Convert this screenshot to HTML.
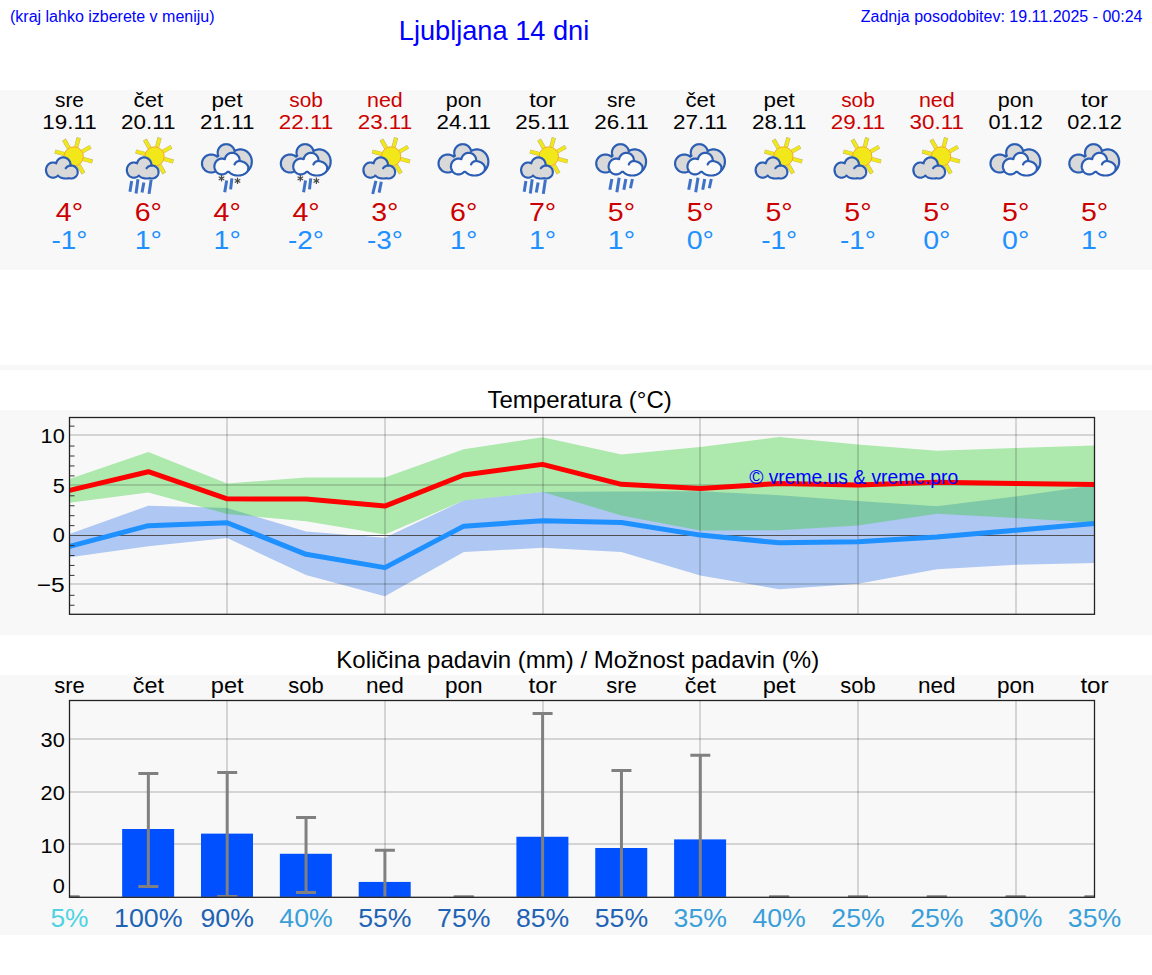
<!DOCTYPE html>
<html><head><meta charset="utf-8"><title>Ljubljana 14 dni</title><style>html,body{margin:0;padding:0;background:#fff;width:1152px;height:975px;overflow:hidden}svg{font-family:"Liberation Sans",sans-serif}</style></head><body>
<svg width="1152" height="975" viewBox="0 0 1152 975" style="display:block">
<rect width="1152" height="975" fill="#ffffff"/>
<rect x="0" y="90" width="1152" height="180" fill="#f8f8f8"/>
<rect x="0" y="365" width="1152" height="5" fill="#f8f8f8"/>
<rect x="0" y="410" width="1152" height="225" fill="#f8f8f8"/>
<rect x="0" y="675" width="1152" height="260" fill="#f8f8f8"/>
<text x="10.00" y="22.00" font-size="16" fill="#0000ff" text-anchor="start">(kraj lahko izberete v meniju)</text>
<text x="398.80" y="39.60" font-size="28" fill="#0000ff" text-anchor="start" textLength="190.40" lengthAdjust="spacingAndGlyphs">Ljubljana 14 dni</text>
<text x="1142.50" y="22.00" font-size="16" fill="#0000ff" text-anchor="end">Zadnja posodobitev: 19.11.2025 - 00:24</text>
<text x="69.50" y="106.75" font-size="20.14" fill="#000000" text-anchor="middle" textLength="28.98" lengthAdjust="spacingAndGlyphs">sre</text>
<text x="69.50" y="128.90" font-size="20.14" fill="#000000" text-anchor="middle" textLength="54.42" lengthAdjust="spacingAndGlyphs">19.11</text>
<text x="69.50" y="220.80" font-size="25.44" fill="#cc0000" text-anchor="middle" textLength="27.27" lengthAdjust="spacingAndGlyphs">4°</text>
<text x="69.50" y="249.00" font-size="25.44" fill="#1e90ff" text-anchor="middle" textLength="35.92" lengthAdjust="spacingAndGlyphs">-1°</text>
<text x="148.35" y="106.75" font-size="20.14" fill="#000000" text-anchor="middle" textLength="29.59" lengthAdjust="spacingAndGlyphs">čet</text>
<text x="148.35" y="128.90" font-size="20.14" fill="#000000" text-anchor="middle" textLength="54.42" lengthAdjust="spacingAndGlyphs">20.11</text>
<text x="148.35" y="220.80" font-size="25.44" fill="#cc0000" text-anchor="middle" textLength="27.27" lengthAdjust="spacingAndGlyphs">6°</text>
<text x="148.35" y="249.00" font-size="25.44" fill="#1e90ff" text-anchor="middle" textLength="27.27" lengthAdjust="spacingAndGlyphs">1°</text>
<text x="227.20" y="106.75" font-size="20.14" fill="#000000" text-anchor="middle" textLength="31.20" lengthAdjust="spacingAndGlyphs">pet</text>
<text x="227.20" y="128.90" font-size="20.14" fill="#000000" text-anchor="middle" textLength="54.42" lengthAdjust="spacingAndGlyphs">21.11</text>
<text x="227.20" y="220.80" font-size="25.44" fill="#cc0000" text-anchor="middle" textLength="27.27" lengthAdjust="spacingAndGlyphs">4°</text>
<text x="227.20" y="249.00" font-size="25.44" fill="#1e90ff" text-anchor="middle" textLength="27.27" lengthAdjust="spacingAndGlyphs">1°</text>
<text x="306.05" y="106.75" font-size="20.14" fill="#cc0000" text-anchor="middle" textLength="33.59" lengthAdjust="spacingAndGlyphs">sob</text>
<text x="306.05" y="128.90" font-size="20.14" fill="#cc0000" text-anchor="middle" textLength="54.42" lengthAdjust="spacingAndGlyphs">22.11</text>
<text x="306.05" y="220.80" font-size="25.44" fill="#cc0000" text-anchor="middle" textLength="27.27" lengthAdjust="spacingAndGlyphs">4°</text>
<text x="306.05" y="249.00" font-size="25.44" fill="#1e90ff" text-anchor="middle" textLength="35.92" lengthAdjust="spacingAndGlyphs">-2°</text>
<text x="384.90" y="106.75" font-size="20.14" fill="#cc0000" text-anchor="middle" textLength="35.80" lengthAdjust="spacingAndGlyphs">ned</text>
<text x="384.90" y="128.90" font-size="20.14" fill="#cc0000" text-anchor="middle" textLength="54.42" lengthAdjust="spacingAndGlyphs">23.11</text>
<text x="384.90" y="220.80" font-size="25.44" fill="#cc0000" text-anchor="middle" textLength="27.27" lengthAdjust="spacingAndGlyphs">3°</text>
<text x="384.90" y="249.00" font-size="25.44" fill="#1e90ff" text-anchor="middle" textLength="35.92" lengthAdjust="spacingAndGlyphs">-3°</text>
<text x="463.75" y="106.75" font-size="20.14" fill="#000000" text-anchor="middle" textLength="35.73" lengthAdjust="spacingAndGlyphs">pon</text>
<text x="463.75" y="128.90" font-size="20.14" fill="#000000" text-anchor="middle" textLength="54.42" lengthAdjust="spacingAndGlyphs">24.11</text>
<text x="463.75" y="220.80" font-size="25.44" fill="#cc0000" text-anchor="middle" textLength="27.27" lengthAdjust="spacingAndGlyphs">6°</text>
<text x="463.75" y="249.00" font-size="25.44" fill="#1e90ff" text-anchor="middle" textLength="27.27" lengthAdjust="spacingAndGlyphs">1°</text>
<text x="542.60" y="106.75" font-size="20.14" fill="#000000" text-anchor="middle" textLength="26.89" lengthAdjust="spacingAndGlyphs">tor</text>
<text x="542.60" y="128.90" font-size="20.14" fill="#000000" text-anchor="middle" textLength="54.42" lengthAdjust="spacingAndGlyphs">25.11</text>
<text x="542.60" y="220.80" font-size="25.44" fill="#cc0000" text-anchor="middle" textLength="27.27" lengthAdjust="spacingAndGlyphs">7°</text>
<text x="542.60" y="249.00" font-size="25.44" fill="#1e90ff" text-anchor="middle" textLength="27.27" lengthAdjust="spacingAndGlyphs">1°</text>
<text x="621.45" y="106.75" font-size="20.14" fill="#000000" text-anchor="middle" textLength="28.98" lengthAdjust="spacingAndGlyphs">sre</text>
<text x="621.45" y="128.90" font-size="20.14" fill="#000000" text-anchor="middle" textLength="54.42" lengthAdjust="spacingAndGlyphs">26.11</text>
<text x="621.45" y="220.80" font-size="25.44" fill="#cc0000" text-anchor="middle" textLength="27.27" lengthAdjust="spacingAndGlyphs">5°</text>
<text x="621.45" y="249.00" font-size="25.44" fill="#1e90ff" text-anchor="middle" textLength="27.27" lengthAdjust="spacingAndGlyphs">1°</text>
<text x="700.30" y="106.75" font-size="20.14" fill="#000000" text-anchor="middle" textLength="29.59" lengthAdjust="spacingAndGlyphs">čet</text>
<text x="700.30" y="128.90" font-size="20.14" fill="#000000" text-anchor="middle" textLength="54.42" lengthAdjust="spacingAndGlyphs">27.11</text>
<text x="700.30" y="220.80" font-size="25.44" fill="#cc0000" text-anchor="middle" textLength="27.27" lengthAdjust="spacingAndGlyphs">5°</text>
<text x="700.30" y="249.00" font-size="25.44" fill="#1e90ff" text-anchor="middle" textLength="27.27" lengthAdjust="spacingAndGlyphs">0°</text>
<text x="779.15" y="106.75" font-size="20.14" fill="#000000" text-anchor="middle" textLength="31.20" lengthAdjust="spacingAndGlyphs">pet</text>
<text x="779.15" y="128.90" font-size="20.14" fill="#000000" text-anchor="middle" textLength="54.42" lengthAdjust="spacingAndGlyphs">28.11</text>
<text x="779.15" y="220.80" font-size="25.44" fill="#cc0000" text-anchor="middle" textLength="27.27" lengthAdjust="spacingAndGlyphs">5°</text>
<text x="779.15" y="249.00" font-size="25.44" fill="#1e90ff" text-anchor="middle" textLength="35.92" lengthAdjust="spacingAndGlyphs">-1°</text>
<text x="858.00" y="106.75" font-size="20.14" fill="#cc0000" text-anchor="middle" textLength="33.59" lengthAdjust="spacingAndGlyphs">sob</text>
<text x="858.00" y="128.90" font-size="20.14" fill="#cc0000" text-anchor="middle" textLength="54.42" lengthAdjust="spacingAndGlyphs">29.11</text>
<text x="858.00" y="220.80" font-size="25.44" fill="#cc0000" text-anchor="middle" textLength="27.27" lengthAdjust="spacingAndGlyphs">5°</text>
<text x="858.00" y="249.00" font-size="25.44" fill="#1e90ff" text-anchor="middle" textLength="35.92" lengthAdjust="spacingAndGlyphs">-1°</text>
<text x="936.85" y="106.75" font-size="20.14" fill="#cc0000" text-anchor="middle" textLength="35.80" lengthAdjust="spacingAndGlyphs">ned</text>
<text x="936.85" y="128.90" font-size="20.14" fill="#cc0000" text-anchor="middle" textLength="54.42" lengthAdjust="spacingAndGlyphs">30.11</text>
<text x="936.85" y="220.80" font-size="25.44" fill="#cc0000" text-anchor="middle" textLength="27.27" lengthAdjust="spacingAndGlyphs">5°</text>
<text x="936.85" y="249.00" font-size="25.44" fill="#1e90ff" text-anchor="middle" textLength="27.27" lengthAdjust="spacingAndGlyphs">0°</text>
<text x="1015.70" y="106.75" font-size="20.14" fill="#000000" text-anchor="middle" textLength="35.73" lengthAdjust="spacingAndGlyphs">pon</text>
<text x="1015.70" y="128.90" font-size="20.14" fill="#000000" text-anchor="middle" textLength="54.42" lengthAdjust="spacingAndGlyphs">01.12</text>
<text x="1015.70" y="220.80" font-size="25.44" fill="#cc0000" text-anchor="middle" textLength="27.27" lengthAdjust="spacingAndGlyphs">5°</text>
<text x="1015.70" y="249.00" font-size="25.44" fill="#1e90ff" text-anchor="middle" textLength="27.27" lengthAdjust="spacingAndGlyphs">0°</text>
<text x="1094.55" y="106.75" font-size="20.14" fill="#000000" text-anchor="middle" textLength="26.89" lengthAdjust="spacingAndGlyphs">tor</text>
<text x="1094.55" y="128.90" font-size="20.14" fill="#000000" text-anchor="middle" textLength="54.42" lengthAdjust="spacingAndGlyphs">02.12</text>
<text x="1094.55" y="220.80" font-size="25.44" fill="#cc0000" text-anchor="middle" textLength="27.27" lengthAdjust="spacingAndGlyphs">5°</text>
<text x="1094.55" y="249.00" font-size="25.44" fill="#1e90ff" text-anchor="middle" textLength="27.27" lengthAdjust="spacingAndGlyphs">1°</text>
<line x1="83.36" y1="159.09" x2="92.54" y2="161.55" stroke="#bdb56e" stroke-width="4.2"/><line x1="83.36" y1="159.09" x2="92.15" y2="161.44" stroke="#f2e819" stroke-width="3.2"/><line x1="78.70" y1="165.16" x2="83.45" y2="173.39" stroke="#bdb56e" stroke-width="4.2"/><line x1="78.70" y1="165.16" x2="83.25" y2="173.04" stroke="#f2e819" stroke-width="3.2"/><line x1="71.11" y1="166.16" x2="68.65" y2="175.34" stroke="#bdb56e" stroke-width="4.2"/><line x1="71.11" y1="166.16" x2="68.76" y2="174.95" stroke="#f2e819" stroke-width="3.2"/><line x1="65.04" y1="161.50" x2="56.81" y2="166.25" stroke="#bdb56e" stroke-width="4.2"/><line x1="65.04" y1="161.50" x2="57.16" y2="166.05" stroke="#f2e819" stroke-width="3.2"/><line x1="64.04" y1="153.91" x2="54.86" y2="151.45" stroke="#bdb56e" stroke-width="4.2"/><line x1="64.04" y1="153.91" x2="55.25" y2="151.56" stroke="#f2e819" stroke-width="3.2"/><line x1="68.70" y1="147.84" x2="63.95" y2="139.61" stroke="#bdb56e" stroke-width="4.2"/><line x1="68.70" y1="147.84" x2="64.15" y2="139.96" stroke="#f2e819" stroke-width="3.2"/><line x1="76.29" y1="146.84" x2="78.75" y2="137.66" stroke="#bdb56e" stroke-width="4.2"/><line x1="76.29" y1="146.84" x2="78.64" y2="138.05" stroke="#f2e819" stroke-width="3.2"/><line x1="82.36" y1="151.50" x2="90.59" y2="146.75" stroke="#bdb56e" stroke-width="4.2"/><line x1="82.36" y1="151.50" x2="90.24" y2="146.95" stroke="#f2e819" stroke-width="3.2"/><circle cx="73.7" cy="156.5" r="9.7" fill="#f2e819" stroke="#f6a821" stroke-width="1"/><path d="M70.41,163.64 L70.30,163.07 L70.15,162.51 L69.95,161.97 L69.72,161.44 L69.44,160.93 L69.12,160.45 L68.77,159.99 L68.39,159.57 L67.98,159.17 L67.53,158.81 L67.06,158.49 L66.57,158.21 L66.06,157.96 L65.52,157.76 L64.98,157.60 L64.43,157.49 L63.86,157.42 L63.30,157.40 L62.74,157.42 L62.17,157.49 L61.62,157.60 L61.08,157.76 L60.54,157.96 L60.03,158.21 L59.54,158.49 L59.07,158.81 L58.62,159.17 L58.21,159.57 L57.83,159.99 L57.48,160.45 L57.16,160.93 L56.88,161.44 L56.65,161.97 L56.45,162.51 L56.30,163.07 L56.24,163.37 L56.18,163.33 L55.68,163.08 L55.16,162.87 L54.63,162.71 L54.10,162.59 L53.55,162.52 L53.00,162.50 L52.45,162.52 L51.90,162.59 L51.37,162.71 L50.84,162.87 L50.32,163.08 L49.82,163.33 L49.34,163.62 L48.89,163.95 L48.45,164.32 L48.05,164.73 L47.68,165.16 L47.34,165.63 L47.03,166.13 L46.76,166.65 L46.53,167.19 L46.34,167.75 L46.19,168.33 L46.09,168.91 L46.02,169.50 L46.00,170.10 L46.02,170.70 L46.09,171.29 L46.19,171.87 L46.34,172.45 L46.53,173.01 L46.76,173.55 L47.03,174.07 L47.34,174.57 L47.68,175.04 L48.05,175.47 L48.45,175.88 L48.89,176.25 L49.34,176.58 L49.82,176.87 L50.32,177.12 L50.84,177.33 L51.37,177.49 L51.90,177.61 L52.45,177.68 L53.00,177.70 L53.55,177.68 L54.10,177.61 L54.63,177.49 L55.16,177.33 L55.68,177.12 L56.18,176.87 L56.66,176.58 L57.11,176.25 L57.55,175.88 L57.95,175.47 L57.96,175.47 L57.98,175.50 L58.33,175.87 L58.72,176.23 L59.16,176.57 L59.64,176.89 L60.15,177.18 L60.71,177.45 L61.30,177.69 L61.91,177.90 L62.56,178.08 L63.22,178.23 L63.90,178.35 L64.59,178.43 L65.29,178.48 L66.00,178.50 L66.71,178.48 L67.41,178.43 L68.10,178.35 L68.78,178.23 L69.04,178.17 L69.06,178.18 L69.56,178.32 L70.07,178.42 L70.58,178.48 L71.10,178.50 L71.62,178.48 L72.13,178.42 L72.64,178.32 L73.14,178.18 L73.63,178.01 L74.10,177.79 L74.55,177.54 L74.98,177.26 L75.39,176.94 L75.77,176.60 L76.12,176.22 L76.44,175.82 L76.73,175.40 L76.98,174.95 L77.20,174.49 L77.38,174.01 L77.52,173.52 L77.62,173.02 L77.68,172.51 L77.70,172.00 L77.68,171.49 L77.62,170.98 L77.52,170.48 L77.38,169.99 L77.20,169.51 L76.98,169.05 L76.73,168.60 L76.44,168.18 L76.12,167.78 L75.77,167.40 L75.39,167.06 L74.98,166.74 L74.55,166.46 L74.10,166.21 L73.63,165.99 L73.14,165.82 L72.64,165.68 L72.13,165.58 L71.62,165.52 L71.10,165.50 L70.58,165.52 L70.46,165.53 L70.48,165.38 L70.50,164.80 L70.48,164.22 L70.41,163.64Z" fill="#d9d9d9" stroke="#2a5db3" stroke-width="2.15" stroke-linejoin="round"/><path d="M65.69,168.27 L66.03,167.84 L66.39,167.44 L66.79,167.08 L67.22,166.74 L67.68,166.44 L68.16,166.18 L68.65,165.96 L69.17,165.78 L69.70,165.65 L70.24,165.56 L70.78,165.51 L71.33,165.50" fill="none" stroke="#2a5db3" stroke-width="2.15" stroke-linecap="round"/>
<line x1="164.21" y1="159.09" x2="173.39" y2="161.55" stroke="#bdb56e" stroke-width="4.2"/><line x1="164.21" y1="159.09" x2="173.00" y2="161.44" stroke="#f2e819" stroke-width="3.2"/><line x1="159.55" y1="165.16" x2="164.30" y2="173.39" stroke="#bdb56e" stroke-width="4.2"/><line x1="159.55" y1="165.16" x2="164.10" y2="173.04" stroke="#f2e819" stroke-width="3.2"/><line x1="151.96" y1="166.16" x2="149.50" y2="175.34" stroke="#bdb56e" stroke-width="4.2"/><line x1="151.96" y1="166.16" x2="149.61" y2="174.95" stroke="#f2e819" stroke-width="3.2"/><line x1="145.89" y1="161.50" x2="137.66" y2="166.25" stroke="#bdb56e" stroke-width="4.2"/><line x1="145.89" y1="161.50" x2="138.01" y2="166.05" stroke="#f2e819" stroke-width="3.2"/><line x1="144.89" y1="153.91" x2="135.71" y2="151.45" stroke="#bdb56e" stroke-width="4.2"/><line x1="144.89" y1="153.91" x2="136.10" y2="151.56" stroke="#f2e819" stroke-width="3.2"/><line x1="149.55" y1="147.84" x2="144.80" y2="139.61" stroke="#bdb56e" stroke-width="4.2"/><line x1="149.55" y1="147.84" x2="145.00" y2="139.96" stroke="#f2e819" stroke-width="3.2"/><line x1="157.14" y1="146.84" x2="159.60" y2="137.66" stroke="#bdb56e" stroke-width="4.2"/><line x1="157.14" y1="146.84" x2="159.49" y2="138.05" stroke="#f2e819" stroke-width="3.2"/><line x1="163.21" y1="151.50" x2="171.44" y2="146.75" stroke="#bdb56e" stroke-width="4.2"/><line x1="163.21" y1="151.50" x2="171.09" y2="146.95" stroke="#f2e819" stroke-width="3.2"/><circle cx="154.54999999999998" cy="156.5" r="9.7" fill="#f2e819" stroke="#f6a821" stroke-width="1"/><path d="M151.26,163.64 L151.15,163.07 L151.00,162.51 L150.80,161.97 L150.57,161.44 L150.29,160.93 L149.97,160.45 L149.62,159.99 L149.24,159.57 L148.83,159.17 L148.38,158.81 L147.91,158.49 L147.42,158.21 L146.91,157.96 L146.37,157.76 L145.83,157.60 L145.28,157.49 L144.71,157.42 L144.15,157.40 L143.59,157.42 L143.02,157.49 L142.47,157.60 L141.93,157.76 L141.39,157.96 L140.88,158.21 L140.39,158.49 L139.92,158.81 L139.47,159.17 L139.06,159.57 L138.68,159.99 L138.33,160.45 L138.01,160.93 L137.73,161.44 L137.50,161.97 L137.30,162.51 L137.15,163.07 L137.09,163.37 L137.03,163.33 L136.53,163.08 L136.01,162.87 L135.48,162.71 L134.95,162.59 L134.40,162.52 L133.85,162.50 L133.30,162.52 L132.75,162.59 L132.22,162.71 L131.69,162.87 L131.17,163.08 L130.67,163.33 L130.19,163.62 L129.74,163.95 L129.30,164.32 L128.90,164.73 L128.53,165.16 L128.19,165.63 L127.88,166.13 L127.61,166.65 L127.38,167.19 L127.19,167.75 L127.04,168.33 L126.94,168.91 L126.87,169.50 L126.85,170.10 L126.87,170.70 L126.94,171.29 L127.04,171.87 L127.19,172.45 L127.38,173.01 L127.61,173.55 L127.88,174.07 L128.19,174.57 L128.53,175.04 L128.90,175.47 L129.30,175.88 L129.74,176.25 L130.19,176.58 L130.67,176.87 L131.17,177.12 L131.69,177.33 L132.22,177.49 L132.75,177.61 L133.30,177.68 L133.85,177.70 L134.40,177.68 L134.95,177.61 L135.48,177.49 L136.01,177.33 L136.53,177.12 L137.03,176.87 L137.51,176.58 L137.96,176.25 L138.40,175.88 L138.80,175.47 L138.81,175.47 L138.83,175.50 L139.18,175.87 L139.57,176.23 L140.01,176.57 L140.49,176.89 L141.00,177.18 L141.56,177.45 L142.15,177.69 L142.76,177.90 L143.41,178.08 L144.07,178.23 L144.75,178.35 L145.44,178.43 L146.14,178.48 L146.85,178.50 L147.56,178.48 L148.26,178.43 L148.95,178.35 L149.63,178.23 L149.89,178.17 L149.91,178.18 L150.41,178.32 L150.92,178.42 L151.43,178.48 L151.95,178.50 L152.47,178.48 L152.98,178.42 L153.49,178.32 L153.99,178.18 L154.48,178.01 L154.95,177.79 L155.40,177.54 L155.83,177.26 L156.24,176.94 L156.62,176.60 L156.97,176.22 L157.29,175.82 L157.58,175.40 L157.83,174.95 L158.05,174.49 L158.23,174.01 L158.37,173.52 L158.47,173.02 L158.53,172.51 L158.55,172.00 L158.53,171.49 L158.47,170.98 L158.37,170.48 L158.23,169.99 L158.05,169.51 L157.83,169.05 L157.58,168.60 L157.29,168.18 L156.97,167.78 L156.62,167.40 L156.24,167.06 L155.83,166.74 L155.40,166.46 L154.95,166.21 L154.48,165.99 L153.99,165.82 L153.49,165.68 L152.98,165.58 L152.47,165.52 L151.95,165.50 L151.43,165.52 L151.31,165.53 L151.33,165.38 L151.35,164.80 L151.33,164.22 L151.26,163.64Z" fill="#d9d9d9" stroke="#2a5db3" stroke-width="2.15" stroke-linejoin="round"/><path d="M146.54,168.27 L146.88,167.84 L147.24,167.44 L147.64,167.08 L148.07,166.74 L148.53,166.44 L149.01,166.18 L149.50,165.96 L150.02,165.78 L150.55,165.65 L151.09,165.56 L151.63,165.51 L152.18,165.50" fill="none" stroke="#2a5db3" stroke-width="2.15" stroke-linecap="round"/><line x1="131.65" y1="181" x2="129.95" y2="191.8" stroke="#3f72c6" stroke-width="3"/><line x1="137.95" y1="179.3" x2="136.05" y2="193.5" stroke="#3f72c6" stroke-width="3"/><line x1="143.85" y1="182.4" x2="142.05" y2="192.5" stroke="#3f72c6" stroke-width="3"/><line x1="151.15" y1="179.6" x2="149.05" y2="193.9" stroke="#3f72c6" stroke-width="3"/>
<path d="M234.47,150.64 L234.28,150.00 L234.05,149.39 L233.77,148.79 L233.45,148.21 L233.08,147.66 L232.66,147.14 L232.21,146.66 L231.72,146.21 L231.20,145.80 L230.64,145.44 L230.06,145.12 L229.45,144.84 L228.83,144.61 L228.18,144.43 L227.53,144.30 L226.87,144.23 L226.20,144.20 L225.53,144.23 L224.87,144.30 L224.22,144.43 L223.57,144.61 L222.95,144.84 L222.34,145.12 L221.76,145.44 L221.20,145.80 L220.68,146.21 L220.19,146.66 L219.74,147.14 L219.32,147.66 L218.95,148.21 L218.63,148.79 L218.35,149.39 L218.12,150.00 L217.93,150.64 L217.80,151.29 L217.73,151.94 L217.70,152.60 L217.73,153.26 L217.80,153.91 L217.93,154.56 L218.12,155.20 L218.35,155.81 L218.35,155.83 L217.19,156.67 L217.17,156.66 L216.61,156.22 L216.01,155.83 L215.38,155.48 L214.72,155.19 L214.04,154.94 L213.35,154.75 L212.64,154.61 L211.92,154.53 L211.20,154.50 L210.48,154.53 L209.76,154.61 L209.05,154.75 L208.36,154.94 L207.68,155.19 L207.02,155.48 L206.39,155.83 L205.79,156.22 L205.23,156.66 L204.69,157.14 L204.20,157.65 L203.76,158.21 L203.36,158.80 L203.00,159.41 L202.70,160.06 L202.45,160.72 L202.25,161.40 L202.11,162.09 L202.03,162.79 L202.00,163.50 L202.03,164.21 L202.11,164.91 L202.25,165.60 L202.45,166.28 L202.70,166.94 L203.00,167.59 L203.36,168.20 L203.76,168.79 L204.20,169.35 L204.69,169.86 L205.23,170.34 L205.79,170.78 L206.39,171.17 L207.02,171.52 L207.68,171.81 L208.36,172.06 L209.05,172.25 L209.76,172.39 L210.48,172.47 L211.20,172.50 L211.92,172.47 L212.64,172.39 L213.35,172.25 L214.04,172.06 L214.72,171.81 L215.38,171.52 L216.01,171.17 L216.61,170.78 L217.17,170.34 L217.71,169.86 L218.20,169.35 L218.64,168.79 L219.04,168.20 L219.40,167.59 L219.70,166.94 L219.95,166.28 L220.15,165.60 L220.29,164.91 L229.29,164.33 L229.31,164.45 L229.56,165.37 L229.87,166.27 L230.24,167.14 L230.68,167.97 L231.18,168.77 L231.73,169.52 L232.34,170.23 L233.00,170.88 L233.70,171.47 L234.44,172.00 L235.22,172.47 L236.04,172.87 L236.88,173.20 L237.74,173.46 L238.62,173.65 L239.51,173.76 L240.40,173.80 L241.29,173.76 L242.18,173.65 L243.06,173.46 L243.92,173.20 L244.76,172.87 L245.58,172.47 L246.36,172.00 L247.10,171.47 L247.80,170.88 L248.46,170.23 L249.07,169.52 L249.62,168.77 L250.12,167.97 L250.56,167.14 L250.93,166.27 L251.24,165.37 L251.49,164.45 L251.66,163.51 L251.76,162.56 L251.80,161.60 L251.76,160.64 L251.66,159.69 L251.49,158.75 L251.24,157.83 L250.93,156.93 L250.56,156.06 L250.12,155.23 L249.62,154.43 L249.07,153.68 L248.46,152.97 L247.80,152.32 L247.10,151.73 L246.36,151.20 L245.58,150.73 L244.76,150.33 L243.92,150.00 L243.06,149.74 L242.18,149.55 L241.29,149.44 L240.40,149.40 L239.51,149.44 L238.62,149.55 L237.74,149.74 L236.88,150.00 L236.04,150.33 L235.22,150.73 L234.56,151.13 L234.47,150.64Z" fill="#d9d9d9" stroke="#2a5db3" stroke-width="2.2" stroke-linejoin="round"/><path d="M239.51,159.04 L239.40,158.47 L239.24,157.91 L239.04,157.37 L238.79,156.84 L238.51,156.33 L238.19,155.85 L237.83,155.39 L237.43,154.97 L237.01,154.57 L236.55,154.21 L236.07,153.89 L235.56,153.61 L235.03,153.36 L234.49,153.16 L233.93,153.00 L233.36,152.89 L232.78,152.82 L232.20,152.80 L231.62,152.82 L231.04,152.89 L230.47,153.00 L229.91,153.16 L229.37,153.36 L228.84,153.61 L228.33,153.89 L227.85,154.21 L227.39,154.57 L226.97,154.97 L226.57,155.39 L226.21,155.85 L225.89,156.33 L225.61,156.84 L225.36,157.37 L225.16,157.91 L225.00,158.47 L224.89,159.04 L224.87,159.25 L224.77,159.20 L224.22,158.99 L223.65,158.82 L223.07,158.70 L222.49,158.62 L221.90,158.60 L221.31,158.62 L220.73,158.70 L220.15,158.82 L219.58,158.99 L219.03,159.20 L218.50,159.46 L217.98,159.76 L217.49,160.11 L217.03,160.49 L216.60,160.91 L216.20,161.37 L215.83,161.86 L215.51,162.37 L215.22,162.91 L214.97,163.48 L214.77,164.06 L214.61,164.66 L214.49,165.26 L214.42,165.88 L214.40,166.50 L214.42,167.12 L214.49,167.74 L214.61,168.34 L214.77,168.94 L214.97,169.52 L215.22,170.09 L215.51,170.63 L215.83,171.14 L216.20,171.63 L216.60,172.09 L217.03,172.51 L217.49,172.89 L217.98,173.24 L218.50,173.54 L219.03,173.80 L219.58,174.01 L220.15,174.18 L220.73,174.30 L221.31,174.38 L221.90,174.40 L222.49,174.38 L223.07,174.30 L223.65,174.18 L224.22,174.01 L224.77,173.80 L225.30,173.54 L225.82,173.24 L226.31,172.89 L226.77,172.51 L227.20,172.09 L227.37,171.90 L227.40,171.90 L227.75,171.89 L228.10,171.87 L228.45,171.83 L228.79,171.77 L228.92,171.75 L229.13,172.01 L229.59,172.49 L230.09,172.94 L230.65,173.36 L231.25,173.75 L231.89,174.11 L232.57,174.42 L233.28,174.70 L234.02,174.94 L234.79,175.14 L235.57,175.30 L236.37,175.41 L237.18,175.48 L238.00,175.50 L238.82,175.48 L239.63,175.41 L240.43,175.30 L241.21,175.14 L241.98,174.94 L242.72,174.70 L243.43,174.42 L244.11,174.11 L244.75,173.75 L245.35,173.36 L245.91,172.94 L246.41,172.49 L246.87,172.01 L247.27,171.51 L247.61,170.99 L247.89,170.46 L248.11,169.90 L248.27,169.34 L248.37,168.77 L248.40,168.20 L248.37,167.63 L248.27,167.06 L248.11,166.50 L247.89,165.94 L247.61,165.41 L247.27,164.89 L246.87,164.39 L246.41,163.91 L245.91,163.46 L245.35,163.04 L244.75,162.65 L244.11,162.29 L243.43,161.98 L242.72,161.70 L241.98,161.46 L241.21,161.26 L240.43,161.10 L239.63,160.99 L239.55,160.98 L239.58,160.78 L239.60,160.20 L239.58,159.62 L239.51,159.04Z" fill="#fafafa" stroke="#2a5db3" stroke-width="2.2" stroke-linejoin="round"/><path d="M234.55,164.41 L234.79,163.91 L235.08,163.43 L235.43,162.98 L235.81,162.57 L236.23,162.20 L236.69,161.88 L237.18,161.60 L237.69,161.37 L238.23,161.20 L238.78,161.08 L239.33,161.01 L239.90,161.00" fill="none" stroke="#2a5db3" stroke-width="2.2" stroke-linecap="round"/><line x1="226.70" y1="180.4" x2="224.70" y2="192.2" stroke="#3f72c6" stroke-width="3"/><line x1="231.90" y1="178.3" x2="230.60" y2="189.4" stroke="#3f72c6" stroke-width="3"/><line x1="221.50" y1="175.10" x2="221.50" y2="181.50" stroke="#484848" stroke-width="1.2"/><line x1="224.27" y1="176.70" x2="218.73" y2="179.90" stroke="#484848" stroke-width="1.2"/><line x1="224.27" y1="179.90" x2="218.73" y2="176.70" stroke="#484848" stroke-width="1.2"/><line x1="237.50" y1="177.60" x2="237.50" y2="184.00" stroke="#484848" stroke-width="1.2"/><line x1="240.27" y1="179.20" x2="234.73" y2="182.40" stroke="#484848" stroke-width="1.2"/><line x1="240.27" y1="182.40" x2="234.73" y2="179.20" stroke="#484848" stroke-width="1.2"/>
<path d="M313.32,150.64 L313.13,150.00 L312.90,149.39 L312.62,148.79 L312.30,148.21 L311.93,147.66 L311.51,147.14 L311.06,146.66 L310.57,146.21 L310.05,145.80 L309.49,145.44 L308.91,145.12 L308.30,144.84 L307.68,144.61 L307.03,144.43 L306.38,144.30 L305.72,144.23 L305.05,144.20 L304.38,144.23 L303.72,144.30 L303.07,144.43 L302.42,144.61 L301.80,144.84 L301.19,145.12 L300.61,145.44 L300.05,145.80 L299.53,146.21 L299.04,146.66 L298.59,147.14 L298.17,147.66 L297.80,148.21 L297.48,148.79 L297.20,149.39 L296.97,150.00 L296.78,150.64 L296.65,151.29 L296.58,151.94 L296.55,152.60 L296.58,153.26 L296.65,153.91 L296.78,154.56 L296.97,155.20 L297.20,155.81 L297.20,155.83 L296.04,156.67 L296.02,156.66 L295.46,156.22 L294.86,155.83 L294.23,155.48 L293.57,155.19 L292.89,154.94 L292.20,154.75 L291.49,154.61 L290.77,154.53 L290.05,154.50 L289.33,154.53 L288.61,154.61 L287.90,154.75 L287.21,154.94 L286.53,155.19 L285.87,155.48 L285.24,155.83 L284.64,156.22 L284.08,156.66 L283.54,157.14 L283.05,157.65 L282.61,158.21 L282.21,158.80 L281.85,159.41 L281.55,160.06 L281.30,160.72 L281.10,161.40 L280.96,162.09 L280.88,162.79 L280.85,163.50 L280.88,164.21 L280.96,164.91 L281.10,165.60 L281.30,166.28 L281.55,166.94 L281.85,167.59 L282.21,168.20 L282.61,168.79 L283.05,169.35 L283.54,169.86 L284.08,170.34 L284.64,170.78 L285.24,171.17 L285.87,171.52 L286.53,171.81 L287.21,172.06 L287.90,172.25 L288.61,172.39 L289.33,172.47 L290.05,172.50 L290.77,172.47 L291.49,172.39 L292.20,172.25 L292.89,172.06 L293.57,171.81 L294.23,171.52 L294.86,171.17 L295.46,170.78 L296.02,170.34 L296.56,169.86 L297.05,169.35 L297.49,168.79 L297.89,168.20 L298.25,167.59 L298.55,166.94 L298.80,166.28 L299.00,165.60 L299.14,164.91 L308.14,164.33 L308.16,164.45 L308.41,165.37 L308.72,166.27 L309.09,167.14 L309.53,167.97 L310.03,168.77 L310.58,169.52 L311.19,170.23 L311.85,170.88 L312.55,171.47 L313.29,172.00 L314.07,172.47 L314.89,172.87 L315.73,173.20 L316.59,173.46 L317.47,173.65 L318.36,173.76 L319.25,173.80 L320.14,173.76 L321.03,173.65 L321.91,173.46 L322.77,173.20 L323.61,172.87 L324.43,172.47 L325.21,172.00 L325.95,171.47 L326.65,170.88 L327.31,170.23 L327.92,169.52 L328.47,168.77 L328.97,167.97 L329.41,167.14 L329.78,166.27 L330.09,165.37 L330.34,164.45 L330.51,163.51 L330.61,162.56 L330.65,161.60 L330.61,160.64 L330.51,159.69 L330.34,158.75 L330.09,157.83 L329.78,156.93 L329.41,156.06 L328.97,155.23 L328.47,154.43 L327.92,153.68 L327.31,152.97 L326.65,152.32 L325.95,151.73 L325.21,151.20 L324.43,150.73 L323.61,150.33 L322.77,150.00 L321.91,149.74 L321.03,149.55 L320.14,149.44 L319.25,149.40 L318.36,149.44 L317.47,149.55 L316.59,149.74 L315.73,150.00 L314.89,150.33 L314.07,150.73 L313.41,151.13 L313.32,150.64Z" fill="#d9d9d9" stroke="#2a5db3" stroke-width="2.2" stroke-linejoin="round"/><path d="M318.36,159.04 L318.25,158.47 L318.09,157.91 L317.89,157.37 L317.64,156.84 L317.36,156.33 L317.04,155.85 L316.68,155.39 L316.28,154.97 L315.86,154.57 L315.40,154.21 L314.92,153.89 L314.41,153.61 L313.88,153.36 L313.34,153.16 L312.78,153.00 L312.21,152.89 L311.63,152.82 L311.05,152.80 L310.47,152.82 L309.89,152.89 L309.32,153.00 L308.76,153.16 L308.22,153.36 L307.69,153.61 L307.18,153.89 L306.70,154.21 L306.24,154.57 L305.82,154.97 L305.42,155.39 L305.06,155.85 L304.74,156.33 L304.46,156.84 L304.21,157.37 L304.01,157.91 L303.85,158.47 L303.74,159.04 L303.72,159.25 L303.62,159.20 L303.07,158.99 L302.50,158.82 L301.92,158.70 L301.34,158.62 L300.75,158.60 L300.16,158.62 L299.58,158.70 L299.00,158.82 L298.43,158.99 L297.88,159.20 L297.35,159.46 L296.83,159.76 L296.34,160.11 L295.88,160.49 L295.45,160.91 L295.05,161.37 L294.68,161.86 L294.36,162.37 L294.07,162.91 L293.82,163.48 L293.62,164.06 L293.46,164.66 L293.34,165.26 L293.27,165.88 L293.25,166.50 L293.27,167.12 L293.34,167.74 L293.46,168.34 L293.62,168.94 L293.82,169.52 L294.07,170.09 L294.36,170.63 L294.68,171.14 L295.05,171.63 L295.45,172.09 L295.88,172.51 L296.34,172.89 L296.83,173.24 L297.35,173.54 L297.88,173.80 L298.43,174.01 L299.00,174.18 L299.58,174.30 L300.16,174.38 L300.75,174.40 L301.34,174.38 L301.92,174.30 L302.50,174.18 L303.07,174.01 L303.62,173.80 L304.15,173.54 L304.67,173.24 L305.16,172.89 L305.62,172.51 L306.05,172.09 L306.22,171.90 L306.25,171.90 L306.60,171.89 L306.95,171.87 L307.30,171.83 L307.64,171.77 L307.77,171.75 L307.98,172.01 L308.44,172.49 L308.94,172.94 L309.50,173.36 L310.10,173.75 L310.74,174.11 L311.42,174.42 L312.13,174.70 L312.87,174.94 L313.64,175.14 L314.42,175.30 L315.22,175.41 L316.03,175.48 L316.85,175.50 L317.67,175.48 L318.48,175.41 L319.28,175.30 L320.06,175.14 L320.83,174.94 L321.57,174.70 L322.28,174.42 L322.96,174.11 L323.60,173.75 L324.20,173.36 L324.76,172.94 L325.26,172.49 L325.72,172.01 L326.12,171.51 L326.46,170.99 L326.74,170.46 L326.96,169.90 L327.12,169.34 L327.22,168.77 L327.25,168.20 L327.22,167.63 L327.12,167.06 L326.96,166.50 L326.74,165.94 L326.46,165.41 L326.12,164.89 L325.72,164.39 L325.26,163.91 L324.76,163.46 L324.20,163.04 L323.60,162.65 L322.96,162.29 L322.28,161.98 L321.57,161.70 L320.83,161.46 L320.06,161.26 L319.28,161.10 L318.48,160.99 L318.40,160.98 L318.43,160.78 L318.45,160.20 L318.43,159.62 L318.36,159.04Z" fill="#fafafa" stroke="#2a5db3" stroke-width="2.2" stroke-linejoin="round"/><path d="M313.40,164.41 L313.64,163.91 L313.93,163.43 L314.28,162.98 L314.66,162.57 L315.08,162.20 L315.54,161.88 L316.03,161.60 L316.54,161.37 L317.08,161.20 L317.63,161.08 L318.18,161.01 L318.75,161.00" fill="none" stroke="#2a5db3" stroke-width="2.2" stroke-linecap="round"/><line x1="305.55" y1="180.4" x2="303.55" y2="192.2" stroke="#3f72c6" stroke-width="3"/><line x1="310.75" y1="178.3" x2="309.45" y2="189.4" stroke="#3f72c6" stroke-width="3"/><line x1="300.35" y1="175.10" x2="300.35" y2="181.50" stroke="#484848" stroke-width="1.2"/><line x1="303.12" y1="176.70" x2="297.58" y2="179.90" stroke="#484848" stroke-width="1.2"/><line x1="303.12" y1="179.90" x2="297.58" y2="176.70" stroke="#484848" stroke-width="1.2"/><line x1="316.35" y1="177.60" x2="316.35" y2="184.00" stroke="#484848" stroke-width="1.2"/><line x1="319.12" y1="179.20" x2="313.58" y2="182.40" stroke="#484848" stroke-width="1.2"/><line x1="319.12" y1="182.40" x2="313.58" y2="179.20" stroke="#484848" stroke-width="1.2"/>
<line x1="400.76" y1="159.09" x2="409.94" y2="161.55" stroke="#bdb56e" stroke-width="4.2"/><line x1="400.76" y1="159.09" x2="409.55" y2="161.44" stroke="#f2e819" stroke-width="3.2"/><line x1="396.10" y1="165.16" x2="400.85" y2="173.39" stroke="#bdb56e" stroke-width="4.2"/><line x1="396.10" y1="165.16" x2="400.65" y2="173.04" stroke="#f2e819" stroke-width="3.2"/><line x1="388.51" y1="166.16" x2="386.05" y2="175.34" stroke="#bdb56e" stroke-width="4.2"/><line x1="388.51" y1="166.16" x2="386.16" y2="174.95" stroke="#f2e819" stroke-width="3.2"/><line x1="382.44" y1="161.50" x2="374.21" y2="166.25" stroke="#bdb56e" stroke-width="4.2"/><line x1="382.44" y1="161.50" x2="374.56" y2="166.05" stroke="#f2e819" stroke-width="3.2"/><line x1="381.44" y1="153.91" x2="372.26" y2="151.45" stroke="#bdb56e" stroke-width="4.2"/><line x1="381.44" y1="153.91" x2="372.65" y2="151.56" stroke="#f2e819" stroke-width="3.2"/><line x1="386.10" y1="147.84" x2="381.35" y2="139.61" stroke="#bdb56e" stroke-width="4.2"/><line x1="386.10" y1="147.84" x2="381.55" y2="139.96" stroke="#f2e819" stroke-width="3.2"/><line x1="393.69" y1="146.84" x2="396.15" y2="137.66" stroke="#bdb56e" stroke-width="4.2"/><line x1="393.69" y1="146.84" x2="396.04" y2="138.05" stroke="#f2e819" stroke-width="3.2"/><line x1="399.76" y1="151.50" x2="407.99" y2="146.75" stroke="#bdb56e" stroke-width="4.2"/><line x1="399.76" y1="151.50" x2="407.64" y2="146.95" stroke="#f2e819" stroke-width="3.2"/><circle cx="391.09999999999997" cy="156.5" r="9.7" fill="#f2e819" stroke="#f6a821" stroke-width="1"/><path d="M387.81,163.64 L387.70,163.07 L387.55,162.51 L387.35,161.97 L387.12,161.44 L386.84,160.93 L386.52,160.45 L386.17,159.99 L385.79,159.57 L385.38,159.17 L384.93,158.81 L384.46,158.49 L383.97,158.21 L383.46,157.96 L382.92,157.76 L382.38,157.60 L381.83,157.49 L381.26,157.42 L380.70,157.40 L380.14,157.42 L379.57,157.49 L379.02,157.60 L378.48,157.76 L377.94,157.96 L377.43,158.21 L376.94,158.49 L376.47,158.81 L376.02,159.17 L375.61,159.57 L375.23,159.99 L374.88,160.45 L374.56,160.93 L374.28,161.44 L374.05,161.97 L373.85,162.51 L373.70,163.07 L373.64,163.37 L373.58,163.33 L373.08,163.08 L372.56,162.87 L372.03,162.71 L371.50,162.59 L370.95,162.52 L370.40,162.50 L369.85,162.52 L369.30,162.59 L368.77,162.71 L368.24,162.87 L367.72,163.08 L367.22,163.33 L366.74,163.62 L366.29,163.95 L365.85,164.32 L365.45,164.73 L365.08,165.16 L364.74,165.63 L364.43,166.13 L364.16,166.65 L363.93,167.19 L363.74,167.75 L363.59,168.33 L363.49,168.91 L363.42,169.50 L363.40,170.10 L363.42,170.70 L363.49,171.29 L363.59,171.87 L363.74,172.45 L363.93,173.01 L364.16,173.55 L364.43,174.07 L364.74,174.57 L365.08,175.04 L365.45,175.47 L365.85,175.88 L366.29,176.25 L366.74,176.58 L367.22,176.87 L367.72,177.12 L368.24,177.33 L368.77,177.49 L369.30,177.61 L369.85,177.68 L370.40,177.70 L370.95,177.68 L371.50,177.61 L372.03,177.49 L372.56,177.33 L373.08,177.12 L373.58,176.87 L374.06,176.58 L374.51,176.25 L374.95,175.88 L375.35,175.47 L375.36,175.47 L375.38,175.50 L375.73,175.87 L376.12,176.23 L376.56,176.57 L377.04,176.89 L377.55,177.18 L378.11,177.45 L378.70,177.69 L379.31,177.90 L379.96,178.08 L380.62,178.23 L381.30,178.35 L381.99,178.43 L382.69,178.48 L383.40,178.50 L384.11,178.48 L384.81,178.43 L385.50,178.35 L386.18,178.23 L386.44,178.17 L386.46,178.18 L386.96,178.32 L387.47,178.42 L387.98,178.48 L388.50,178.50 L389.02,178.48 L389.53,178.42 L390.04,178.32 L390.54,178.18 L391.03,178.01 L391.50,177.79 L391.95,177.54 L392.38,177.26 L392.79,176.94 L393.17,176.60 L393.52,176.22 L393.84,175.82 L394.13,175.40 L394.38,174.95 L394.60,174.49 L394.78,174.01 L394.92,173.52 L395.02,173.02 L395.08,172.51 L395.10,172.00 L395.08,171.49 L395.02,170.98 L394.92,170.48 L394.78,169.99 L394.60,169.51 L394.38,169.05 L394.13,168.60 L393.84,168.18 L393.52,167.78 L393.17,167.40 L392.79,167.06 L392.38,166.74 L391.95,166.46 L391.50,166.21 L391.03,165.99 L390.54,165.82 L390.04,165.68 L389.53,165.58 L389.02,165.52 L388.50,165.50 L387.98,165.52 L387.86,165.53 L387.88,165.38 L387.90,164.80 L387.88,164.22 L387.81,163.64Z" fill="#d9d9d9" stroke="#2a5db3" stroke-width="2.15" stroke-linejoin="round"/><path d="M383.09,168.27 L383.43,167.84 L383.79,167.44 L384.19,167.08 L384.62,166.74 L385.08,166.44 L385.56,166.18 L386.05,165.96 L386.57,165.78 L387.10,165.65 L387.64,165.56 L388.18,165.51 L388.73,165.50" fill="none" stroke="#2a5db3" stroke-width="2.15" stroke-linecap="round"/><line x1="375.90" y1="180.9" x2="372.70" y2="194" stroke="#3f72c6" stroke-width="3"/><line x1="381.30" y1="181.8" x2="379.10" y2="192.6" stroke="#3f72c6" stroke-width="3"/>
<path d="M471.02,150.64 L470.83,150.00 L470.60,149.39 L470.32,148.79 L470.00,148.21 L469.63,147.66 L469.21,147.14 L468.76,146.66 L468.27,146.21 L467.75,145.80 L467.19,145.44 L466.61,145.12 L466.00,144.84 L465.38,144.61 L464.73,144.43 L464.08,144.30 L463.42,144.23 L462.75,144.20 L462.08,144.23 L461.42,144.30 L460.77,144.43 L460.12,144.61 L459.50,144.84 L458.89,145.12 L458.31,145.44 L457.75,145.80 L457.23,146.21 L456.74,146.66 L456.29,147.14 L455.87,147.66 L455.50,148.21 L455.18,148.79 L454.90,149.39 L454.67,150.00 L454.48,150.64 L454.35,151.29 L454.28,151.94 L454.25,152.60 L454.28,153.26 L454.35,153.91 L454.48,154.56 L454.67,155.20 L454.90,155.81 L454.90,155.83 L453.74,156.67 L453.72,156.66 L453.16,156.22 L452.56,155.83 L451.93,155.48 L451.27,155.19 L450.59,154.94 L449.90,154.75 L449.19,154.61 L448.47,154.53 L447.75,154.50 L447.03,154.53 L446.31,154.61 L445.60,154.75 L444.91,154.94 L444.23,155.19 L443.57,155.48 L442.94,155.83 L442.34,156.22 L441.78,156.66 L441.24,157.14 L440.75,157.65 L440.31,158.21 L439.91,158.80 L439.55,159.41 L439.25,160.06 L439.00,160.72 L438.80,161.40 L438.66,162.09 L438.58,162.79 L438.55,163.50 L438.58,164.21 L438.66,164.91 L438.80,165.60 L439.00,166.28 L439.25,166.94 L439.55,167.59 L439.91,168.20 L440.31,168.79 L440.75,169.35 L441.24,169.86 L441.78,170.34 L442.34,170.78 L442.94,171.17 L443.57,171.52 L444.23,171.81 L444.91,172.06 L445.60,172.25 L446.31,172.39 L447.03,172.47 L447.75,172.50 L448.47,172.47 L449.19,172.39 L449.90,172.25 L450.59,172.06 L451.27,171.81 L451.93,171.52 L452.56,171.17 L453.16,170.78 L453.72,170.34 L454.26,169.86 L454.75,169.35 L455.19,168.79 L455.59,168.20 L455.95,167.59 L456.25,166.94 L456.50,166.28 L456.70,165.60 L456.84,164.91 L465.84,164.33 L465.86,164.45 L466.11,165.37 L466.42,166.27 L466.79,167.14 L467.23,167.97 L467.73,168.77 L468.28,169.52 L468.89,170.23 L469.55,170.88 L470.25,171.47 L470.99,172.00 L471.77,172.47 L472.59,172.87 L473.43,173.20 L474.29,173.46 L475.17,173.65 L476.06,173.76 L476.95,173.80 L477.84,173.76 L478.73,173.65 L479.61,173.46 L480.47,173.20 L481.31,172.87 L482.13,172.47 L482.91,172.00 L483.65,171.47 L484.35,170.88 L485.01,170.23 L485.62,169.52 L486.17,168.77 L486.67,167.97 L487.11,167.14 L487.48,166.27 L487.79,165.37 L488.04,164.45 L488.21,163.51 L488.31,162.56 L488.35,161.60 L488.31,160.64 L488.21,159.69 L488.04,158.75 L487.79,157.83 L487.48,156.93 L487.11,156.06 L486.67,155.23 L486.17,154.43 L485.62,153.68 L485.01,152.97 L484.35,152.32 L483.65,151.73 L482.91,151.20 L482.13,150.73 L481.31,150.33 L480.47,150.00 L479.61,149.74 L478.73,149.55 L477.84,149.44 L476.95,149.40 L476.06,149.44 L475.17,149.55 L474.29,149.74 L473.43,150.00 L472.59,150.33 L471.77,150.73 L471.11,151.13 L471.02,150.64Z" fill="#d9d9d9" stroke="#2a5db3" stroke-width="2.2" stroke-linejoin="round"/><path d="M476.06,159.04 L475.95,158.47 L475.79,157.91 L475.59,157.37 L475.34,156.84 L475.06,156.33 L474.74,155.85 L474.38,155.39 L473.98,154.97 L473.56,154.57 L473.10,154.21 L472.62,153.89 L472.11,153.61 L471.58,153.36 L471.04,153.16 L470.48,153.00 L469.91,152.89 L469.33,152.82 L468.75,152.80 L468.17,152.82 L467.59,152.89 L467.02,153.00 L466.46,153.16 L465.92,153.36 L465.39,153.61 L464.88,153.89 L464.40,154.21 L463.94,154.57 L463.52,154.97 L463.12,155.39 L462.76,155.85 L462.44,156.33 L462.16,156.84 L461.91,157.37 L461.71,157.91 L461.55,158.47 L461.44,159.04 L461.42,159.25 L461.32,159.20 L460.77,158.99 L460.20,158.82 L459.62,158.70 L459.04,158.62 L458.45,158.60 L457.86,158.62 L457.28,158.70 L456.70,158.82 L456.13,158.99 L455.58,159.20 L455.05,159.46 L454.53,159.76 L454.04,160.11 L453.58,160.49 L453.15,160.91 L452.75,161.37 L452.38,161.86 L452.06,162.37 L451.77,162.91 L451.52,163.48 L451.32,164.06 L451.16,164.66 L451.04,165.26 L450.97,165.88 L450.95,166.50 L450.97,167.12 L451.04,167.74 L451.16,168.34 L451.32,168.94 L451.52,169.52 L451.77,170.09 L452.06,170.63 L452.38,171.14 L452.75,171.63 L453.15,172.09 L453.58,172.51 L454.04,172.89 L454.53,173.24 L455.05,173.54 L455.58,173.80 L456.13,174.01 L456.70,174.18 L457.28,174.30 L457.86,174.38 L458.45,174.40 L459.04,174.38 L459.62,174.30 L460.20,174.18 L460.77,174.01 L461.32,173.80 L461.85,173.54 L462.37,173.24 L462.86,172.89 L463.32,172.51 L463.75,172.09 L463.92,171.90 L463.95,171.90 L464.30,171.89 L464.65,171.87 L465.00,171.83 L465.34,171.77 L465.47,171.75 L465.68,172.01 L466.14,172.49 L466.64,172.94 L467.20,173.36 L467.80,173.75 L468.44,174.11 L469.12,174.42 L469.83,174.70 L470.57,174.94 L471.34,175.14 L472.12,175.30 L472.92,175.41 L473.73,175.48 L474.55,175.50 L475.37,175.48 L476.18,175.41 L476.98,175.30 L477.76,175.14 L478.53,174.94 L479.27,174.70 L479.98,174.42 L480.66,174.11 L481.30,173.75 L481.90,173.36 L482.46,172.94 L482.96,172.49 L483.42,172.01 L483.82,171.51 L484.16,170.99 L484.44,170.46 L484.66,169.90 L484.82,169.34 L484.92,168.77 L484.95,168.20 L484.92,167.63 L484.82,167.06 L484.66,166.50 L484.44,165.94 L484.16,165.41 L483.82,164.89 L483.42,164.39 L482.96,163.91 L482.46,163.46 L481.90,163.04 L481.30,162.65 L480.66,162.29 L479.98,161.98 L479.27,161.70 L478.53,161.46 L477.76,161.26 L476.98,161.10 L476.18,160.99 L476.10,160.98 L476.13,160.78 L476.15,160.20 L476.13,159.62 L476.06,159.04Z" fill="#fafafa" stroke="#2a5db3" stroke-width="2.2" stroke-linejoin="round"/><path d="M471.10,164.41 L471.34,163.91 L471.63,163.43 L471.98,162.98 L472.36,162.57 L472.78,162.20 L473.24,161.88 L473.73,161.60 L474.24,161.37 L474.78,161.20 L475.33,161.08 L475.88,161.01 L476.45,161.00" fill="none" stroke="#2a5db3" stroke-width="2.2" stroke-linecap="round"/>
<line x1="558.46" y1="159.09" x2="567.64" y2="161.55" stroke="#bdb56e" stroke-width="4.2"/><line x1="558.46" y1="159.09" x2="567.25" y2="161.44" stroke="#f2e819" stroke-width="3.2"/><line x1="553.80" y1="165.16" x2="558.55" y2="173.39" stroke="#bdb56e" stroke-width="4.2"/><line x1="553.80" y1="165.16" x2="558.35" y2="173.04" stroke="#f2e819" stroke-width="3.2"/><line x1="546.21" y1="166.16" x2="543.75" y2="175.34" stroke="#bdb56e" stroke-width="4.2"/><line x1="546.21" y1="166.16" x2="543.86" y2="174.95" stroke="#f2e819" stroke-width="3.2"/><line x1="540.14" y1="161.50" x2="531.91" y2="166.25" stroke="#bdb56e" stroke-width="4.2"/><line x1="540.14" y1="161.50" x2="532.26" y2="166.05" stroke="#f2e819" stroke-width="3.2"/><line x1="539.14" y1="153.91" x2="529.96" y2="151.45" stroke="#bdb56e" stroke-width="4.2"/><line x1="539.14" y1="153.91" x2="530.35" y2="151.56" stroke="#f2e819" stroke-width="3.2"/><line x1="543.80" y1="147.84" x2="539.05" y2="139.61" stroke="#bdb56e" stroke-width="4.2"/><line x1="543.80" y1="147.84" x2="539.25" y2="139.96" stroke="#f2e819" stroke-width="3.2"/><line x1="551.39" y1="146.84" x2="553.85" y2="137.66" stroke="#bdb56e" stroke-width="4.2"/><line x1="551.39" y1="146.84" x2="553.74" y2="138.05" stroke="#f2e819" stroke-width="3.2"/><line x1="557.46" y1="151.50" x2="565.69" y2="146.75" stroke="#bdb56e" stroke-width="4.2"/><line x1="557.46" y1="151.50" x2="565.34" y2="146.95" stroke="#f2e819" stroke-width="3.2"/><circle cx="548.8" cy="156.5" r="9.7" fill="#f2e819" stroke="#f6a821" stroke-width="1"/><path d="M545.51,163.64 L545.40,163.07 L545.25,162.51 L545.05,161.97 L544.82,161.44 L544.54,160.93 L544.22,160.45 L543.87,159.99 L543.49,159.57 L543.08,159.17 L542.63,158.81 L542.16,158.49 L541.67,158.21 L541.16,157.96 L540.62,157.76 L540.08,157.60 L539.53,157.49 L538.96,157.42 L538.40,157.40 L537.84,157.42 L537.27,157.49 L536.72,157.60 L536.18,157.76 L535.64,157.96 L535.13,158.21 L534.64,158.49 L534.17,158.81 L533.72,159.17 L533.31,159.57 L532.93,159.99 L532.58,160.45 L532.26,160.93 L531.98,161.44 L531.75,161.97 L531.55,162.51 L531.40,163.07 L531.34,163.37 L531.28,163.33 L530.78,163.08 L530.26,162.87 L529.73,162.71 L529.20,162.59 L528.65,162.52 L528.10,162.50 L527.55,162.52 L527.00,162.59 L526.47,162.71 L525.94,162.87 L525.42,163.08 L524.92,163.33 L524.44,163.62 L523.99,163.95 L523.55,164.32 L523.15,164.73 L522.78,165.16 L522.44,165.63 L522.13,166.13 L521.86,166.65 L521.63,167.19 L521.44,167.75 L521.29,168.33 L521.19,168.91 L521.12,169.50 L521.10,170.10 L521.12,170.70 L521.19,171.29 L521.29,171.87 L521.44,172.45 L521.63,173.01 L521.86,173.55 L522.13,174.07 L522.44,174.57 L522.78,175.04 L523.15,175.47 L523.55,175.88 L523.99,176.25 L524.44,176.58 L524.92,176.87 L525.42,177.12 L525.94,177.33 L526.47,177.49 L527.00,177.61 L527.55,177.68 L528.10,177.70 L528.65,177.68 L529.20,177.61 L529.73,177.49 L530.26,177.33 L530.78,177.12 L531.28,176.87 L531.76,176.58 L532.21,176.25 L532.65,175.88 L533.05,175.47 L533.06,175.47 L533.08,175.50 L533.43,175.87 L533.82,176.23 L534.26,176.57 L534.74,176.89 L535.25,177.18 L535.81,177.45 L536.40,177.69 L537.01,177.90 L537.66,178.08 L538.32,178.23 L539.00,178.35 L539.69,178.43 L540.39,178.48 L541.10,178.50 L541.81,178.48 L542.51,178.43 L543.20,178.35 L543.88,178.23 L544.14,178.17 L544.16,178.18 L544.66,178.32 L545.17,178.42 L545.68,178.48 L546.20,178.50 L546.72,178.48 L547.23,178.42 L547.74,178.32 L548.24,178.18 L548.73,178.01 L549.20,177.79 L549.65,177.54 L550.08,177.26 L550.49,176.94 L550.87,176.60 L551.22,176.22 L551.54,175.82 L551.83,175.40 L552.08,174.95 L552.30,174.49 L552.48,174.01 L552.62,173.52 L552.72,173.02 L552.78,172.51 L552.80,172.00 L552.78,171.49 L552.72,170.98 L552.62,170.48 L552.48,169.99 L552.30,169.51 L552.08,169.05 L551.83,168.60 L551.54,168.18 L551.22,167.78 L550.87,167.40 L550.49,167.06 L550.08,166.74 L549.65,166.46 L549.20,166.21 L548.73,165.99 L548.24,165.82 L547.74,165.68 L547.23,165.58 L546.72,165.52 L546.20,165.50 L545.68,165.52 L545.56,165.53 L545.58,165.38 L545.60,164.80 L545.58,164.22 L545.51,163.64Z" fill="#d9d9d9" stroke="#2a5db3" stroke-width="2.15" stroke-linejoin="round"/><path d="M540.79,168.27 L541.13,167.84 L541.49,167.44 L541.89,167.08 L542.32,166.74 L542.78,166.44 L543.26,166.18 L543.75,165.96 L544.27,165.78 L544.80,165.65 L545.34,165.56 L545.88,165.51 L546.43,165.50" fill="none" stroke="#2a5db3" stroke-width="2.15" stroke-linecap="round"/><line x1="525.90" y1="181" x2="524.20" y2="191.8" stroke="#3f72c6" stroke-width="3"/><line x1="532.20" y1="179.3" x2="530.30" y2="193.5" stroke="#3f72c6" stroke-width="3"/><line x1="538.10" y1="182.4" x2="536.30" y2="192.5" stroke="#3f72c6" stroke-width="3"/><line x1="545.40" y1="179.6" x2="543.30" y2="193.9" stroke="#3f72c6" stroke-width="3"/>
<path d="M628.72,150.64 L628.53,150.00 L628.30,149.39 L628.02,148.79 L627.70,148.21 L627.33,147.66 L626.91,147.14 L626.46,146.66 L625.97,146.21 L625.45,145.80 L624.89,145.44 L624.31,145.12 L623.70,144.84 L623.08,144.61 L622.43,144.43 L621.78,144.30 L621.12,144.23 L620.45,144.20 L619.78,144.23 L619.12,144.30 L618.47,144.43 L617.82,144.61 L617.20,144.84 L616.59,145.12 L616.01,145.44 L615.45,145.80 L614.93,146.21 L614.44,146.66 L613.99,147.14 L613.57,147.66 L613.20,148.21 L612.88,148.79 L612.60,149.39 L612.37,150.00 L612.18,150.64 L612.05,151.29 L611.98,151.94 L611.95,152.60 L611.98,153.26 L612.05,153.91 L612.18,154.56 L612.37,155.20 L612.60,155.81 L612.60,155.83 L611.44,156.67 L611.42,156.66 L610.86,156.22 L610.26,155.83 L609.63,155.48 L608.97,155.19 L608.29,154.94 L607.60,154.75 L606.89,154.61 L606.17,154.53 L605.45,154.50 L604.73,154.53 L604.01,154.61 L603.30,154.75 L602.61,154.94 L601.93,155.19 L601.27,155.48 L600.64,155.83 L600.04,156.22 L599.48,156.66 L598.94,157.14 L598.45,157.65 L598.01,158.21 L597.61,158.80 L597.25,159.41 L596.95,160.06 L596.70,160.72 L596.50,161.40 L596.36,162.09 L596.28,162.79 L596.25,163.50 L596.28,164.21 L596.36,164.91 L596.50,165.60 L596.70,166.28 L596.95,166.94 L597.25,167.59 L597.61,168.20 L598.01,168.79 L598.45,169.35 L598.94,169.86 L599.48,170.34 L600.04,170.78 L600.64,171.17 L601.27,171.52 L601.93,171.81 L602.61,172.06 L603.30,172.25 L604.01,172.39 L604.73,172.47 L605.45,172.50 L606.17,172.47 L606.89,172.39 L607.60,172.25 L608.29,172.06 L608.97,171.81 L609.63,171.52 L610.26,171.17 L610.86,170.78 L611.42,170.34 L611.96,169.86 L612.45,169.35 L612.89,168.79 L613.29,168.20 L613.65,167.59 L613.95,166.94 L614.20,166.28 L614.40,165.60 L614.54,164.91 L623.54,164.33 L623.56,164.45 L623.81,165.37 L624.12,166.27 L624.49,167.14 L624.93,167.97 L625.43,168.77 L625.98,169.52 L626.59,170.23 L627.25,170.88 L627.95,171.47 L628.69,172.00 L629.47,172.47 L630.29,172.87 L631.13,173.20 L631.99,173.46 L632.87,173.65 L633.76,173.76 L634.65,173.80 L635.54,173.76 L636.43,173.65 L637.31,173.46 L638.17,173.20 L639.01,172.87 L639.83,172.47 L640.61,172.00 L641.35,171.47 L642.05,170.88 L642.71,170.23 L643.32,169.52 L643.87,168.77 L644.37,167.97 L644.81,167.14 L645.18,166.27 L645.49,165.37 L645.74,164.45 L645.91,163.51 L646.01,162.56 L646.05,161.60 L646.01,160.64 L645.91,159.69 L645.74,158.75 L645.49,157.83 L645.18,156.93 L644.81,156.06 L644.37,155.23 L643.87,154.43 L643.32,153.68 L642.71,152.97 L642.05,152.32 L641.35,151.73 L640.61,151.20 L639.83,150.73 L639.01,150.33 L638.17,150.00 L637.31,149.74 L636.43,149.55 L635.54,149.44 L634.65,149.40 L633.76,149.44 L632.87,149.55 L631.99,149.74 L631.13,150.00 L630.29,150.33 L629.47,150.73 L628.81,151.13 L628.72,150.64Z" fill="#d9d9d9" stroke="#2a5db3" stroke-width="2.2" stroke-linejoin="round"/><path d="M633.76,159.04 L633.65,158.47 L633.49,157.91 L633.29,157.37 L633.04,156.84 L632.76,156.33 L632.44,155.85 L632.08,155.39 L631.68,154.97 L631.26,154.57 L630.80,154.21 L630.32,153.89 L629.81,153.61 L629.28,153.36 L628.74,153.16 L628.18,153.00 L627.61,152.89 L627.03,152.82 L626.45,152.80 L625.87,152.82 L625.29,152.89 L624.72,153.00 L624.16,153.16 L623.62,153.36 L623.09,153.61 L622.58,153.89 L622.10,154.21 L621.64,154.57 L621.22,154.97 L620.82,155.39 L620.46,155.85 L620.14,156.33 L619.86,156.84 L619.61,157.37 L619.41,157.91 L619.25,158.47 L619.14,159.04 L619.12,159.25 L619.02,159.20 L618.47,158.99 L617.90,158.82 L617.32,158.70 L616.74,158.62 L616.15,158.60 L615.56,158.62 L614.98,158.70 L614.40,158.82 L613.83,158.99 L613.28,159.20 L612.75,159.46 L612.23,159.76 L611.74,160.11 L611.28,160.49 L610.85,160.91 L610.45,161.37 L610.08,161.86 L609.76,162.37 L609.47,162.91 L609.22,163.48 L609.02,164.06 L608.86,164.66 L608.74,165.26 L608.67,165.88 L608.65,166.50 L608.67,167.12 L608.74,167.74 L608.86,168.34 L609.02,168.94 L609.22,169.52 L609.47,170.09 L609.76,170.63 L610.08,171.14 L610.45,171.63 L610.85,172.09 L611.28,172.51 L611.74,172.89 L612.23,173.24 L612.75,173.54 L613.28,173.80 L613.83,174.01 L614.40,174.18 L614.98,174.30 L615.56,174.38 L616.15,174.40 L616.74,174.38 L617.32,174.30 L617.90,174.18 L618.47,174.01 L619.02,173.80 L619.55,173.54 L620.07,173.24 L620.56,172.89 L621.02,172.51 L621.45,172.09 L621.62,171.90 L621.65,171.90 L622.00,171.89 L622.35,171.87 L622.70,171.83 L623.04,171.77 L623.17,171.75 L623.38,172.01 L623.84,172.49 L624.34,172.94 L624.90,173.36 L625.50,173.75 L626.14,174.11 L626.82,174.42 L627.53,174.70 L628.27,174.94 L629.04,175.14 L629.82,175.30 L630.62,175.41 L631.43,175.48 L632.25,175.50 L633.07,175.48 L633.88,175.41 L634.68,175.30 L635.46,175.14 L636.23,174.94 L636.97,174.70 L637.68,174.42 L638.36,174.11 L639.00,173.75 L639.60,173.36 L640.16,172.94 L640.66,172.49 L641.12,172.01 L641.52,171.51 L641.86,170.99 L642.14,170.46 L642.36,169.90 L642.52,169.34 L642.62,168.77 L642.65,168.20 L642.62,167.63 L642.52,167.06 L642.36,166.50 L642.14,165.94 L641.86,165.41 L641.52,164.89 L641.12,164.39 L640.66,163.91 L640.16,163.46 L639.60,163.04 L639.00,162.65 L638.36,162.29 L637.68,161.98 L636.97,161.70 L636.23,161.46 L635.46,161.26 L634.68,161.10 L633.88,160.99 L633.80,160.98 L633.83,160.78 L633.85,160.20 L633.83,159.62 L633.76,159.04Z" fill="#fafafa" stroke="#2a5db3" stroke-width="2.2" stroke-linejoin="round"/><path d="M628.80,164.41 L629.04,163.91 L629.33,163.43 L629.68,162.98 L630.06,162.57 L630.48,162.20 L630.94,161.88 L631.43,161.60 L631.94,161.37 L632.48,161.20 L633.03,161.08 L633.58,161.01 L634.15,161.00" fill="none" stroke="#2a5db3" stroke-width="2.2" stroke-linecap="round"/><line x1="611.85" y1="179" x2="609.85" y2="189.7" stroke="#3f72c6" stroke-width="3"/><line x1="619.15" y1="177.7" x2="616.85" y2="192.3" stroke="#3f72c6" stroke-width="3"/><line x1="625.85" y1="179" x2="623.85" y2="189.7" stroke="#3f72c6" stroke-width="3"/><line x1="632.45" y1="179" x2="630.45" y2="188.3" stroke="#3f72c6" stroke-width="3"/>
<path d="M707.57,150.64 L707.38,150.00 L707.15,149.39 L706.87,148.79 L706.55,148.21 L706.18,147.66 L705.76,147.14 L705.31,146.66 L704.82,146.21 L704.30,145.80 L703.74,145.44 L703.16,145.12 L702.55,144.84 L701.93,144.61 L701.28,144.43 L700.63,144.30 L699.97,144.23 L699.30,144.20 L698.63,144.23 L697.97,144.30 L697.32,144.43 L696.67,144.61 L696.05,144.84 L695.44,145.12 L694.86,145.44 L694.30,145.80 L693.78,146.21 L693.29,146.66 L692.84,147.14 L692.42,147.66 L692.05,148.21 L691.73,148.79 L691.45,149.39 L691.22,150.00 L691.03,150.64 L690.90,151.29 L690.83,151.94 L690.80,152.60 L690.83,153.26 L690.90,153.91 L691.03,154.56 L691.22,155.20 L691.45,155.81 L691.45,155.83 L690.29,156.67 L690.27,156.66 L689.71,156.22 L689.11,155.83 L688.48,155.48 L687.82,155.19 L687.14,154.94 L686.45,154.75 L685.74,154.61 L685.02,154.53 L684.30,154.50 L683.58,154.53 L682.86,154.61 L682.15,154.75 L681.46,154.94 L680.78,155.19 L680.12,155.48 L679.49,155.83 L678.89,156.22 L678.33,156.66 L677.79,157.14 L677.30,157.65 L676.86,158.21 L676.46,158.80 L676.10,159.41 L675.80,160.06 L675.55,160.72 L675.35,161.40 L675.21,162.09 L675.13,162.79 L675.10,163.50 L675.13,164.21 L675.21,164.91 L675.35,165.60 L675.55,166.28 L675.80,166.94 L676.10,167.59 L676.46,168.20 L676.86,168.79 L677.30,169.35 L677.79,169.86 L678.33,170.34 L678.89,170.78 L679.49,171.17 L680.12,171.52 L680.78,171.81 L681.46,172.06 L682.15,172.25 L682.86,172.39 L683.58,172.47 L684.30,172.50 L685.02,172.47 L685.74,172.39 L686.45,172.25 L687.14,172.06 L687.82,171.81 L688.48,171.52 L689.11,171.17 L689.71,170.78 L690.27,170.34 L690.81,169.86 L691.30,169.35 L691.74,168.79 L692.14,168.20 L692.50,167.59 L692.80,166.94 L693.05,166.28 L693.25,165.60 L693.39,164.91 L702.39,164.33 L702.41,164.45 L702.66,165.37 L702.97,166.27 L703.34,167.14 L703.78,167.97 L704.28,168.77 L704.83,169.52 L705.44,170.23 L706.10,170.88 L706.80,171.47 L707.54,172.00 L708.32,172.47 L709.14,172.87 L709.98,173.20 L710.84,173.46 L711.72,173.65 L712.61,173.76 L713.50,173.80 L714.39,173.76 L715.28,173.65 L716.16,173.46 L717.02,173.20 L717.86,172.87 L718.68,172.47 L719.46,172.00 L720.20,171.47 L720.90,170.88 L721.56,170.23 L722.17,169.52 L722.72,168.77 L723.22,167.97 L723.66,167.14 L724.03,166.27 L724.34,165.37 L724.59,164.45 L724.76,163.51 L724.86,162.56 L724.90,161.60 L724.86,160.64 L724.76,159.69 L724.59,158.75 L724.34,157.83 L724.03,156.93 L723.66,156.06 L723.22,155.23 L722.72,154.43 L722.17,153.68 L721.56,152.97 L720.90,152.32 L720.20,151.73 L719.46,151.20 L718.68,150.73 L717.86,150.33 L717.02,150.00 L716.16,149.74 L715.28,149.55 L714.39,149.44 L713.50,149.40 L712.61,149.44 L711.72,149.55 L710.84,149.74 L709.98,150.00 L709.14,150.33 L708.32,150.73 L707.66,151.13 L707.57,150.64Z" fill="#d9d9d9" stroke="#2a5db3" stroke-width="2.2" stroke-linejoin="round"/><path d="M712.61,159.04 L712.50,158.47 L712.34,157.91 L712.14,157.37 L711.89,156.84 L711.61,156.33 L711.29,155.85 L710.93,155.39 L710.53,154.97 L710.11,154.57 L709.65,154.21 L709.17,153.89 L708.66,153.61 L708.13,153.36 L707.59,153.16 L707.03,153.00 L706.46,152.89 L705.88,152.82 L705.30,152.80 L704.72,152.82 L704.14,152.89 L703.57,153.00 L703.01,153.16 L702.47,153.36 L701.94,153.61 L701.43,153.89 L700.95,154.21 L700.49,154.57 L700.07,154.97 L699.67,155.39 L699.31,155.85 L698.99,156.33 L698.71,156.84 L698.46,157.37 L698.26,157.91 L698.10,158.47 L697.99,159.04 L697.97,159.25 L697.87,159.20 L697.32,158.99 L696.75,158.82 L696.17,158.70 L695.59,158.62 L695.00,158.60 L694.41,158.62 L693.83,158.70 L693.25,158.82 L692.68,158.99 L692.13,159.20 L691.60,159.46 L691.08,159.76 L690.59,160.11 L690.13,160.49 L689.70,160.91 L689.30,161.37 L688.93,161.86 L688.61,162.37 L688.32,162.91 L688.07,163.48 L687.87,164.06 L687.71,164.66 L687.59,165.26 L687.52,165.88 L687.50,166.50 L687.52,167.12 L687.59,167.74 L687.71,168.34 L687.87,168.94 L688.07,169.52 L688.32,170.09 L688.61,170.63 L688.93,171.14 L689.30,171.63 L689.70,172.09 L690.13,172.51 L690.59,172.89 L691.08,173.24 L691.60,173.54 L692.13,173.80 L692.68,174.01 L693.25,174.18 L693.83,174.30 L694.41,174.38 L695.00,174.40 L695.59,174.38 L696.17,174.30 L696.75,174.18 L697.32,174.01 L697.87,173.80 L698.40,173.54 L698.92,173.24 L699.41,172.89 L699.87,172.51 L700.30,172.09 L700.47,171.90 L700.50,171.90 L700.85,171.89 L701.20,171.87 L701.55,171.83 L701.89,171.77 L702.02,171.75 L702.23,172.01 L702.69,172.49 L703.19,172.94 L703.75,173.36 L704.35,173.75 L704.99,174.11 L705.67,174.42 L706.38,174.70 L707.12,174.94 L707.89,175.14 L708.67,175.30 L709.47,175.41 L710.28,175.48 L711.10,175.50 L711.92,175.48 L712.73,175.41 L713.53,175.30 L714.31,175.14 L715.08,174.94 L715.82,174.70 L716.53,174.42 L717.21,174.11 L717.85,173.75 L718.45,173.36 L719.01,172.94 L719.51,172.49 L719.97,172.01 L720.37,171.51 L720.71,170.99 L720.99,170.46 L721.21,169.90 L721.37,169.34 L721.47,168.77 L721.50,168.20 L721.47,167.63 L721.37,167.06 L721.21,166.50 L720.99,165.94 L720.71,165.41 L720.37,164.89 L719.97,164.39 L719.51,163.91 L719.01,163.46 L718.45,163.04 L717.85,162.65 L717.21,162.29 L716.53,161.98 L715.82,161.70 L715.08,161.46 L714.31,161.26 L713.53,161.10 L712.73,160.99 L712.65,160.98 L712.68,160.78 L712.70,160.20 L712.68,159.62 L712.61,159.04Z" fill="#fafafa" stroke="#2a5db3" stroke-width="2.2" stroke-linejoin="round"/><path d="M707.65,164.41 L707.89,163.91 L708.18,163.43 L708.53,162.98 L708.91,162.57 L709.33,162.20 L709.79,161.88 L710.28,161.60 L710.79,161.37 L711.33,161.20 L711.88,161.08 L712.43,161.01 L713.00,161.00" fill="none" stroke="#2a5db3" stroke-width="2.2" stroke-linecap="round"/><line x1="690.70" y1="179" x2="688.70" y2="189.7" stroke="#3f72c6" stroke-width="3"/><line x1="698.00" y1="177.7" x2="695.70" y2="192.3" stroke="#3f72c6" stroke-width="3"/><line x1="704.70" y1="179" x2="702.70" y2="189.7" stroke="#3f72c6" stroke-width="3"/><line x1="711.30" y1="179" x2="709.30" y2="188.3" stroke="#3f72c6" stroke-width="3"/>
<line x1="793.01" y1="159.09" x2="802.19" y2="161.55" stroke="#bdb56e" stroke-width="4.2"/><line x1="793.01" y1="159.09" x2="801.80" y2="161.44" stroke="#f2e819" stroke-width="3.2"/><line x1="788.35" y1="165.16" x2="793.10" y2="173.39" stroke="#bdb56e" stroke-width="4.2"/><line x1="788.35" y1="165.16" x2="792.90" y2="173.04" stroke="#f2e819" stroke-width="3.2"/><line x1="780.76" y1="166.16" x2="778.30" y2="175.34" stroke="#bdb56e" stroke-width="4.2"/><line x1="780.76" y1="166.16" x2="778.41" y2="174.95" stroke="#f2e819" stroke-width="3.2"/><line x1="774.69" y1="161.50" x2="766.46" y2="166.25" stroke="#bdb56e" stroke-width="4.2"/><line x1="774.69" y1="161.50" x2="766.81" y2="166.05" stroke="#f2e819" stroke-width="3.2"/><line x1="773.69" y1="153.91" x2="764.51" y2="151.45" stroke="#bdb56e" stroke-width="4.2"/><line x1="773.69" y1="153.91" x2="764.90" y2="151.56" stroke="#f2e819" stroke-width="3.2"/><line x1="778.35" y1="147.84" x2="773.60" y2="139.61" stroke="#bdb56e" stroke-width="4.2"/><line x1="778.35" y1="147.84" x2="773.80" y2="139.96" stroke="#f2e819" stroke-width="3.2"/><line x1="785.94" y1="146.84" x2="788.40" y2="137.66" stroke="#bdb56e" stroke-width="4.2"/><line x1="785.94" y1="146.84" x2="788.29" y2="138.05" stroke="#f2e819" stroke-width="3.2"/><line x1="792.01" y1="151.50" x2="800.24" y2="146.75" stroke="#bdb56e" stroke-width="4.2"/><line x1="792.01" y1="151.50" x2="799.89" y2="146.95" stroke="#f2e819" stroke-width="3.2"/><circle cx="783.35" cy="156.5" r="9.7" fill="#f2e819" stroke="#f6a821" stroke-width="1"/><path d="M780.06,163.64 L779.95,163.07 L779.80,162.51 L779.60,161.97 L779.37,161.44 L779.09,160.93 L778.77,160.45 L778.42,159.99 L778.04,159.57 L777.63,159.17 L777.18,158.81 L776.71,158.49 L776.22,158.21 L775.71,157.96 L775.17,157.76 L774.63,157.60 L774.08,157.49 L773.51,157.42 L772.95,157.40 L772.39,157.42 L771.82,157.49 L771.27,157.60 L770.73,157.76 L770.19,157.96 L769.68,158.21 L769.19,158.49 L768.72,158.81 L768.27,159.17 L767.86,159.57 L767.48,159.99 L767.13,160.45 L766.81,160.93 L766.53,161.44 L766.30,161.97 L766.10,162.51 L765.95,163.07 L765.89,163.37 L765.83,163.33 L765.33,163.08 L764.81,162.87 L764.28,162.71 L763.75,162.59 L763.20,162.52 L762.65,162.50 L762.10,162.52 L761.55,162.59 L761.02,162.71 L760.49,162.87 L759.97,163.08 L759.47,163.33 L758.99,163.62 L758.54,163.95 L758.10,164.32 L757.70,164.73 L757.33,165.16 L756.99,165.63 L756.68,166.13 L756.41,166.65 L756.18,167.19 L755.99,167.75 L755.84,168.33 L755.74,168.91 L755.67,169.50 L755.65,170.10 L755.67,170.70 L755.74,171.29 L755.84,171.87 L755.99,172.45 L756.18,173.01 L756.41,173.55 L756.68,174.07 L756.99,174.57 L757.33,175.04 L757.70,175.47 L758.10,175.88 L758.54,176.25 L758.99,176.58 L759.47,176.87 L759.97,177.12 L760.49,177.33 L761.02,177.49 L761.55,177.61 L762.10,177.68 L762.65,177.70 L763.20,177.68 L763.75,177.61 L764.28,177.49 L764.81,177.33 L765.33,177.12 L765.83,176.87 L766.31,176.58 L766.76,176.25 L767.20,175.88 L767.60,175.47 L767.61,175.47 L767.63,175.50 L767.98,175.87 L768.37,176.23 L768.81,176.57 L769.29,176.89 L769.80,177.18 L770.36,177.45 L770.95,177.69 L771.56,177.90 L772.21,178.08 L772.87,178.23 L773.55,178.35 L774.24,178.43 L774.94,178.48 L775.65,178.50 L776.36,178.48 L777.06,178.43 L777.75,178.35 L778.43,178.23 L778.69,178.17 L778.71,178.18 L779.21,178.32 L779.72,178.42 L780.23,178.48 L780.75,178.50 L781.27,178.48 L781.78,178.42 L782.29,178.32 L782.79,178.18 L783.28,178.01 L783.75,177.79 L784.20,177.54 L784.63,177.26 L785.04,176.94 L785.42,176.60 L785.77,176.22 L786.09,175.82 L786.38,175.40 L786.63,174.95 L786.85,174.49 L787.03,174.01 L787.17,173.52 L787.27,173.02 L787.33,172.51 L787.35,172.00 L787.33,171.49 L787.27,170.98 L787.17,170.48 L787.03,169.99 L786.85,169.51 L786.63,169.05 L786.38,168.60 L786.09,168.18 L785.77,167.78 L785.42,167.40 L785.04,167.06 L784.63,166.74 L784.20,166.46 L783.75,166.21 L783.28,165.99 L782.79,165.82 L782.29,165.68 L781.78,165.58 L781.27,165.52 L780.75,165.50 L780.23,165.52 L780.11,165.53 L780.13,165.38 L780.15,164.80 L780.13,164.22 L780.06,163.64Z" fill="#d9d9d9" stroke="#2a5db3" stroke-width="2.15" stroke-linejoin="round"/><path d="M775.34,168.27 L775.68,167.84 L776.04,167.44 L776.44,167.08 L776.87,166.74 L777.33,166.44 L777.81,166.18 L778.30,165.96 L778.82,165.78 L779.35,165.65 L779.89,165.56 L780.43,165.51 L780.98,165.50" fill="none" stroke="#2a5db3" stroke-width="2.15" stroke-linecap="round"/>
<line x1="871.86" y1="159.09" x2="881.04" y2="161.55" stroke="#bdb56e" stroke-width="4.2"/><line x1="871.86" y1="159.09" x2="880.65" y2="161.44" stroke="#f2e819" stroke-width="3.2"/><line x1="867.20" y1="165.16" x2="871.95" y2="173.39" stroke="#bdb56e" stroke-width="4.2"/><line x1="867.20" y1="165.16" x2="871.75" y2="173.04" stroke="#f2e819" stroke-width="3.2"/><line x1="859.61" y1="166.16" x2="857.15" y2="175.34" stroke="#bdb56e" stroke-width="4.2"/><line x1="859.61" y1="166.16" x2="857.26" y2="174.95" stroke="#f2e819" stroke-width="3.2"/><line x1="853.54" y1="161.50" x2="845.31" y2="166.25" stroke="#bdb56e" stroke-width="4.2"/><line x1="853.54" y1="161.50" x2="845.66" y2="166.05" stroke="#f2e819" stroke-width="3.2"/><line x1="852.54" y1="153.91" x2="843.36" y2="151.45" stroke="#bdb56e" stroke-width="4.2"/><line x1="852.54" y1="153.91" x2="843.75" y2="151.56" stroke="#f2e819" stroke-width="3.2"/><line x1="857.20" y1="147.84" x2="852.45" y2="139.61" stroke="#bdb56e" stroke-width="4.2"/><line x1="857.20" y1="147.84" x2="852.65" y2="139.96" stroke="#f2e819" stroke-width="3.2"/><line x1="864.79" y1="146.84" x2="867.25" y2="137.66" stroke="#bdb56e" stroke-width="4.2"/><line x1="864.79" y1="146.84" x2="867.14" y2="138.05" stroke="#f2e819" stroke-width="3.2"/><line x1="870.86" y1="151.50" x2="879.09" y2="146.75" stroke="#bdb56e" stroke-width="4.2"/><line x1="870.86" y1="151.50" x2="878.74" y2="146.95" stroke="#f2e819" stroke-width="3.2"/><circle cx="862.2" cy="156.5" r="9.7" fill="#f2e819" stroke="#f6a821" stroke-width="1"/><path d="M858.91,163.64 L858.80,163.07 L858.65,162.51 L858.45,161.97 L858.22,161.44 L857.94,160.93 L857.62,160.45 L857.27,159.99 L856.89,159.57 L856.48,159.17 L856.03,158.81 L855.56,158.49 L855.07,158.21 L854.56,157.96 L854.02,157.76 L853.48,157.60 L852.93,157.49 L852.36,157.42 L851.80,157.40 L851.24,157.42 L850.67,157.49 L850.12,157.60 L849.58,157.76 L849.04,157.96 L848.53,158.21 L848.04,158.49 L847.57,158.81 L847.12,159.17 L846.71,159.57 L846.33,159.99 L845.98,160.45 L845.66,160.93 L845.38,161.44 L845.15,161.97 L844.95,162.51 L844.80,163.07 L844.74,163.37 L844.68,163.33 L844.18,163.08 L843.66,162.87 L843.13,162.71 L842.60,162.59 L842.05,162.52 L841.50,162.50 L840.95,162.52 L840.40,162.59 L839.87,162.71 L839.34,162.87 L838.82,163.08 L838.32,163.33 L837.84,163.62 L837.39,163.95 L836.95,164.32 L836.55,164.73 L836.18,165.16 L835.84,165.63 L835.53,166.13 L835.26,166.65 L835.03,167.19 L834.84,167.75 L834.69,168.33 L834.59,168.91 L834.52,169.50 L834.50,170.10 L834.52,170.70 L834.59,171.29 L834.69,171.87 L834.84,172.45 L835.03,173.01 L835.26,173.55 L835.53,174.07 L835.84,174.57 L836.18,175.04 L836.55,175.47 L836.95,175.88 L837.39,176.25 L837.84,176.58 L838.32,176.87 L838.82,177.12 L839.34,177.33 L839.87,177.49 L840.40,177.61 L840.95,177.68 L841.50,177.70 L842.05,177.68 L842.60,177.61 L843.13,177.49 L843.66,177.33 L844.18,177.12 L844.68,176.87 L845.16,176.58 L845.61,176.25 L846.05,175.88 L846.45,175.47 L846.46,175.47 L846.48,175.50 L846.83,175.87 L847.22,176.23 L847.66,176.57 L848.14,176.89 L848.65,177.18 L849.21,177.45 L849.80,177.69 L850.41,177.90 L851.06,178.08 L851.72,178.23 L852.40,178.35 L853.09,178.43 L853.79,178.48 L854.50,178.50 L855.21,178.48 L855.91,178.43 L856.60,178.35 L857.28,178.23 L857.54,178.17 L857.56,178.18 L858.06,178.32 L858.57,178.42 L859.08,178.48 L859.60,178.50 L860.12,178.48 L860.63,178.42 L861.14,178.32 L861.64,178.18 L862.13,178.01 L862.60,177.79 L863.05,177.54 L863.48,177.26 L863.89,176.94 L864.27,176.60 L864.62,176.22 L864.94,175.82 L865.23,175.40 L865.48,174.95 L865.70,174.49 L865.88,174.01 L866.02,173.52 L866.12,173.02 L866.18,172.51 L866.20,172.00 L866.18,171.49 L866.12,170.98 L866.02,170.48 L865.88,169.99 L865.70,169.51 L865.48,169.05 L865.23,168.60 L864.94,168.18 L864.62,167.78 L864.27,167.40 L863.89,167.06 L863.48,166.74 L863.05,166.46 L862.60,166.21 L862.13,165.99 L861.64,165.82 L861.14,165.68 L860.63,165.58 L860.12,165.52 L859.60,165.50 L859.08,165.52 L858.96,165.53 L858.98,165.38 L859.00,164.80 L858.98,164.22 L858.91,163.64Z" fill="#d9d9d9" stroke="#2a5db3" stroke-width="2.15" stroke-linejoin="round"/><path d="M854.19,168.27 L854.53,167.84 L854.89,167.44 L855.29,167.08 L855.72,166.74 L856.18,166.44 L856.66,166.18 L857.15,165.96 L857.67,165.78 L858.20,165.65 L858.74,165.56 L859.28,165.51 L859.83,165.50" fill="none" stroke="#2a5db3" stroke-width="2.15" stroke-linecap="round"/>
<line x1="950.71" y1="159.09" x2="959.89" y2="161.55" stroke="#bdb56e" stroke-width="4.2"/><line x1="950.71" y1="159.09" x2="959.50" y2="161.44" stroke="#f2e819" stroke-width="3.2"/><line x1="946.05" y1="165.16" x2="950.80" y2="173.39" stroke="#bdb56e" stroke-width="4.2"/><line x1="946.05" y1="165.16" x2="950.60" y2="173.04" stroke="#f2e819" stroke-width="3.2"/><line x1="938.46" y1="166.16" x2="936.00" y2="175.34" stroke="#bdb56e" stroke-width="4.2"/><line x1="938.46" y1="166.16" x2="936.11" y2="174.95" stroke="#f2e819" stroke-width="3.2"/><line x1="932.39" y1="161.50" x2="924.16" y2="166.25" stroke="#bdb56e" stroke-width="4.2"/><line x1="932.39" y1="161.50" x2="924.51" y2="166.05" stroke="#f2e819" stroke-width="3.2"/><line x1="931.39" y1="153.91" x2="922.21" y2="151.45" stroke="#bdb56e" stroke-width="4.2"/><line x1="931.39" y1="153.91" x2="922.60" y2="151.56" stroke="#f2e819" stroke-width="3.2"/><line x1="936.05" y1="147.84" x2="931.30" y2="139.61" stroke="#bdb56e" stroke-width="4.2"/><line x1="936.05" y1="147.84" x2="931.50" y2="139.96" stroke="#f2e819" stroke-width="3.2"/><line x1="943.64" y1="146.84" x2="946.10" y2="137.66" stroke="#bdb56e" stroke-width="4.2"/><line x1="943.64" y1="146.84" x2="945.99" y2="138.05" stroke="#f2e819" stroke-width="3.2"/><line x1="949.71" y1="151.50" x2="957.94" y2="146.75" stroke="#bdb56e" stroke-width="4.2"/><line x1="949.71" y1="151.50" x2="957.59" y2="146.95" stroke="#f2e819" stroke-width="3.2"/><circle cx="941.05" cy="156.5" r="9.7" fill="#f2e819" stroke="#f6a821" stroke-width="1"/><path d="M937.76,163.64 L937.65,163.07 L937.50,162.51 L937.30,161.97 L937.07,161.44 L936.79,160.93 L936.47,160.45 L936.12,159.99 L935.74,159.57 L935.33,159.17 L934.88,158.81 L934.41,158.49 L933.92,158.21 L933.41,157.96 L932.87,157.76 L932.33,157.60 L931.78,157.49 L931.21,157.42 L930.65,157.40 L930.09,157.42 L929.52,157.49 L928.97,157.60 L928.43,157.76 L927.89,157.96 L927.38,158.21 L926.89,158.49 L926.42,158.81 L925.97,159.17 L925.56,159.57 L925.18,159.99 L924.83,160.45 L924.51,160.93 L924.23,161.44 L924.00,161.97 L923.80,162.51 L923.65,163.07 L923.59,163.37 L923.53,163.33 L923.03,163.08 L922.51,162.87 L921.98,162.71 L921.45,162.59 L920.90,162.52 L920.35,162.50 L919.80,162.52 L919.25,162.59 L918.72,162.71 L918.19,162.87 L917.67,163.08 L917.17,163.33 L916.69,163.62 L916.24,163.95 L915.80,164.32 L915.40,164.73 L915.03,165.16 L914.69,165.63 L914.38,166.13 L914.11,166.65 L913.88,167.19 L913.69,167.75 L913.54,168.33 L913.44,168.91 L913.37,169.50 L913.35,170.10 L913.37,170.70 L913.44,171.29 L913.54,171.87 L913.69,172.45 L913.88,173.01 L914.11,173.55 L914.38,174.07 L914.69,174.57 L915.03,175.04 L915.40,175.47 L915.80,175.88 L916.24,176.25 L916.69,176.58 L917.17,176.87 L917.67,177.12 L918.19,177.33 L918.72,177.49 L919.25,177.61 L919.80,177.68 L920.35,177.70 L920.90,177.68 L921.45,177.61 L921.98,177.49 L922.51,177.33 L923.03,177.12 L923.53,176.87 L924.01,176.58 L924.46,176.25 L924.90,175.88 L925.30,175.47 L925.31,175.47 L925.33,175.50 L925.68,175.87 L926.07,176.23 L926.51,176.57 L926.99,176.89 L927.50,177.18 L928.06,177.45 L928.65,177.69 L929.26,177.90 L929.91,178.08 L930.57,178.23 L931.25,178.35 L931.94,178.43 L932.64,178.48 L933.35,178.50 L934.06,178.48 L934.76,178.43 L935.45,178.35 L936.13,178.23 L936.39,178.17 L936.41,178.18 L936.91,178.32 L937.42,178.42 L937.93,178.48 L938.45,178.50 L938.97,178.48 L939.48,178.42 L939.99,178.32 L940.49,178.18 L940.98,178.01 L941.45,177.79 L941.90,177.54 L942.33,177.26 L942.74,176.94 L943.12,176.60 L943.47,176.22 L943.79,175.82 L944.08,175.40 L944.33,174.95 L944.55,174.49 L944.73,174.01 L944.87,173.52 L944.97,173.02 L945.03,172.51 L945.05,172.00 L945.03,171.49 L944.97,170.98 L944.87,170.48 L944.73,169.99 L944.55,169.51 L944.33,169.05 L944.08,168.60 L943.79,168.18 L943.47,167.78 L943.12,167.40 L942.74,167.06 L942.33,166.74 L941.90,166.46 L941.45,166.21 L940.98,165.99 L940.49,165.82 L939.99,165.68 L939.48,165.58 L938.97,165.52 L938.45,165.50 L937.93,165.52 L937.81,165.53 L937.83,165.38 L937.85,164.80 L937.83,164.22 L937.76,163.64Z" fill="#d9d9d9" stroke="#2a5db3" stroke-width="2.15" stroke-linejoin="round"/><path d="M933.04,168.27 L933.38,167.84 L933.74,167.44 L934.14,167.08 L934.57,166.74 L935.03,166.44 L935.51,166.18 L936.00,165.96 L936.52,165.78 L937.05,165.65 L937.59,165.56 L938.13,165.51 L938.68,165.50" fill="none" stroke="#2a5db3" stroke-width="2.15" stroke-linecap="round"/>
<path d="M1022.97,150.64 L1022.78,150.00 L1022.55,149.39 L1022.27,148.79 L1021.95,148.21 L1021.58,147.66 L1021.16,147.14 L1020.71,146.66 L1020.22,146.21 L1019.70,145.80 L1019.14,145.44 L1018.56,145.12 L1017.95,144.84 L1017.33,144.61 L1016.68,144.43 L1016.03,144.30 L1015.37,144.23 L1014.70,144.20 L1014.03,144.23 L1013.37,144.30 L1012.72,144.43 L1012.07,144.61 L1011.45,144.84 L1010.84,145.12 L1010.26,145.44 L1009.70,145.80 L1009.18,146.21 L1008.69,146.66 L1008.24,147.14 L1007.82,147.66 L1007.45,148.21 L1007.13,148.79 L1006.85,149.39 L1006.62,150.00 L1006.43,150.64 L1006.30,151.29 L1006.23,151.94 L1006.20,152.60 L1006.23,153.26 L1006.30,153.91 L1006.43,154.56 L1006.62,155.20 L1006.85,155.81 L1006.85,155.83 L1005.69,156.67 L1005.67,156.66 L1005.11,156.22 L1004.51,155.83 L1003.88,155.48 L1003.22,155.19 L1002.54,154.94 L1001.85,154.75 L1001.14,154.61 L1000.42,154.53 L999.70,154.50 L998.98,154.53 L998.26,154.61 L997.55,154.75 L996.86,154.94 L996.18,155.19 L995.52,155.48 L994.89,155.83 L994.29,156.22 L993.73,156.66 L993.19,157.14 L992.70,157.65 L992.26,158.21 L991.86,158.80 L991.50,159.41 L991.20,160.06 L990.95,160.72 L990.75,161.40 L990.61,162.09 L990.53,162.79 L990.50,163.50 L990.53,164.21 L990.61,164.91 L990.75,165.60 L990.95,166.28 L991.20,166.94 L991.50,167.59 L991.86,168.20 L992.26,168.79 L992.70,169.35 L993.19,169.86 L993.73,170.34 L994.29,170.78 L994.89,171.17 L995.52,171.52 L996.18,171.81 L996.86,172.06 L997.55,172.25 L998.26,172.39 L998.98,172.47 L999.70,172.50 L1000.42,172.47 L1001.14,172.39 L1001.85,172.25 L1002.54,172.06 L1003.22,171.81 L1003.88,171.52 L1004.51,171.17 L1005.11,170.78 L1005.67,170.34 L1006.21,169.86 L1006.70,169.35 L1007.14,168.79 L1007.54,168.20 L1007.90,167.59 L1008.20,166.94 L1008.45,166.28 L1008.65,165.60 L1008.79,164.91 L1017.79,164.33 L1017.81,164.45 L1018.06,165.37 L1018.37,166.27 L1018.74,167.14 L1019.18,167.97 L1019.68,168.77 L1020.23,169.52 L1020.84,170.23 L1021.50,170.88 L1022.20,171.47 L1022.94,172.00 L1023.72,172.47 L1024.54,172.87 L1025.38,173.20 L1026.24,173.46 L1027.12,173.65 L1028.01,173.76 L1028.90,173.80 L1029.79,173.76 L1030.68,173.65 L1031.56,173.46 L1032.42,173.20 L1033.26,172.87 L1034.08,172.47 L1034.86,172.00 L1035.60,171.47 L1036.30,170.88 L1036.96,170.23 L1037.57,169.52 L1038.12,168.77 L1038.62,167.97 L1039.06,167.14 L1039.43,166.27 L1039.74,165.37 L1039.99,164.45 L1040.16,163.51 L1040.26,162.56 L1040.30,161.60 L1040.26,160.64 L1040.16,159.69 L1039.99,158.75 L1039.74,157.83 L1039.43,156.93 L1039.06,156.06 L1038.62,155.23 L1038.12,154.43 L1037.57,153.68 L1036.96,152.97 L1036.30,152.32 L1035.60,151.73 L1034.86,151.20 L1034.08,150.73 L1033.26,150.33 L1032.42,150.00 L1031.56,149.74 L1030.68,149.55 L1029.79,149.44 L1028.90,149.40 L1028.01,149.44 L1027.12,149.55 L1026.24,149.74 L1025.38,150.00 L1024.54,150.33 L1023.72,150.73 L1023.06,151.13 L1022.97,150.64Z" fill="#d9d9d9" stroke="#2a5db3" stroke-width="2.2" stroke-linejoin="round"/><path d="M1028.01,159.04 L1027.90,158.47 L1027.74,157.91 L1027.54,157.37 L1027.29,156.84 L1027.01,156.33 L1026.69,155.85 L1026.33,155.39 L1025.93,154.97 L1025.51,154.57 L1025.05,154.21 L1024.57,153.89 L1024.06,153.61 L1023.53,153.36 L1022.99,153.16 L1022.43,153.00 L1021.86,152.89 L1021.28,152.82 L1020.70,152.80 L1020.12,152.82 L1019.54,152.89 L1018.97,153.00 L1018.41,153.16 L1017.87,153.36 L1017.34,153.61 L1016.83,153.89 L1016.35,154.21 L1015.89,154.57 L1015.47,154.97 L1015.07,155.39 L1014.71,155.85 L1014.39,156.33 L1014.11,156.84 L1013.86,157.37 L1013.66,157.91 L1013.50,158.47 L1013.39,159.04 L1013.37,159.25 L1013.27,159.20 L1012.72,158.99 L1012.15,158.82 L1011.57,158.70 L1010.99,158.62 L1010.40,158.60 L1009.81,158.62 L1009.23,158.70 L1008.65,158.82 L1008.08,158.99 L1007.53,159.20 L1007.00,159.46 L1006.48,159.76 L1005.99,160.11 L1005.53,160.49 L1005.10,160.91 L1004.70,161.37 L1004.33,161.86 L1004.01,162.37 L1003.72,162.91 L1003.47,163.48 L1003.27,164.06 L1003.11,164.66 L1002.99,165.26 L1002.92,165.88 L1002.90,166.50 L1002.92,167.12 L1002.99,167.74 L1003.11,168.34 L1003.27,168.94 L1003.47,169.52 L1003.72,170.09 L1004.01,170.63 L1004.33,171.14 L1004.70,171.63 L1005.10,172.09 L1005.53,172.51 L1005.99,172.89 L1006.48,173.24 L1007.00,173.54 L1007.53,173.80 L1008.08,174.01 L1008.65,174.18 L1009.23,174.30 L1009.81,174.38 L1010.40,174.40 L1010.99,174.38 L1011.57,174.30 L1012.15,174.18 L1012.72,174.01 L1013.27,173.80 L1013.80,173.54 L1014.32,173.24 L1014.81,172.89 L1015.27,172.51 L1015.70,172.09 L1015.87,171.90 L1015.90,171.90 L1016.25,171.89 L1016.60,171.87 L1016.95,171.83 L1017.29,171.77 L1017.42,171.75 L1017.63,172.01 L1018.09,172.49 L1018.59,172.94 L1019.15,173.36 L1019.75,173.75 L1020.39,174.11 L1021.07,174.42 L1021.78,174.70 L1022.52,174.94 L1023.29,175.14 L1024.07,175.30 L1024.87,175.41 L1025.68,175.48 L1026.50,175.50 L1027.32,175.48 L1028.13,175.41 L1028.93,175.30 L1029.71,175.14 L1030.48,174.94 L1031.22,174.70 L1031.93,174.42 L1032.61,174.11 L1033.25,173.75 L1033.85,173.36 L1034.41,172.94 L1034.91,172.49 L1035.37,172.01 L1035.77,171.51 L1036.11,170.99 L1036.39,170.46 L1036.61,169.90 L1036.77,169.34 L1036.87,168.77 L1036.90,168.20 L1036.87,167.63 L1036.77,167.06 L1036.61,166.50 L1036.39,165.94 L1036.11,165.41 L1035.77,164.89 L1035.37,164.39 L1034.91,163.91 L1034.41,163.46 L1033.85,163.04 L1033.25,162.65 L1032.61,162.29 L1031.93,161.98 L1031.22,161.70 L1030.48,161.46 L1029.71,161.26 L1028.93,161.10 L1028.13,160.99 L1028.05,160.98 L1028.08,160.78 L1028.10,160.20 L1028.08,159.62 L1028.01,159.04Z" fill="#fafafa" stroke="#2a5db3" stroke-width="2.2" stroke-linejoin="round"/><path d="M1023.05,164.41 L1023.29,163.91 L1023.58,163.43 L1023.93,162.98 L1024.31,162.57 L1024.73,162.20 L1025.19,161.88 L1025.68,161.60 L1026.19,161.37 L1026.73,161.20 L1027.28,161.08 L1027.83,161.01 L1028.40,161.00" fill="none" stroke="#2a5db3" stroke-width="2.2" stroke-linecap="round"/>
<path d="M1101.82,150.64 L1101.63,150.00 L1101.40,149.39 L1101.12,148.79 L1100.80,148.21 L1100.43,147.66 L1100.01,147.14 L1099.56,146.66 L1099.07,146.21 L1098.55,145.80 L1097.99,145.44 L1097.41,145.12 L1096.80,144.84 L1096.18,144.61 L1095.53,144.43 L1094.88,144.30 L1094.22,144.23 L1093.55,144.20 L1092.88,144.23 L1092.22,144.30 L1091.57,144.43 L1090.92,144.61 L1090.30,144.84 L1089.69,145.12 L1089.11,145.44 L1088.55,145.80 L1088.03,146.21 L1087.54,146.66 L1087.09,147.14 L1086.67,147.66 L1086.30,148.21 L1085.98,148.79 L1085.70,149.39 L1085.47,150.00 L1085.28,150.64 L1085.15,151.29 L1085.08,151.94 L1085.05,152.60 L1085.08,153.26 L1085.15,153.91 L1085.28,154.56 L1085.47,155.20 L1085.70,155.81 L1085.70,155.83 L1084.54,156.67 L1084.52,156.66 L1083.96,156.22 L1083.36,155.83 L1082.73,155.48 L1082.07,155.19 L1081.39,154.94 L1080.70,154.75 L1079.99,154.61 L1079.27,154.53 L1078.55,154.50 L1077.83,154.53 L1077.11,154.61 L1076.40,154.75 L1075.71,154.94 L1075.03,155.19 L1074.37,155.48 L1073.74,155.83 L1073.14,156.22 L1072.58,156.66 L1072.04,157.14 L1071.55,157.65 L1071.11,158.21 L1070.71,158.80 L1070.35,159.41 L1070.05,160.06 L1069.80,160.72 L1069.60,161.40 L1069.46,162.09 L1069.38,162.79 L1069.35,163.50 L1069.38,164.21 L1069.46,164.91 L1069.60,165.60 L1069.80,166.28 L1070.05,166.94 L1070.35,167.59 L1070.71,168.20 L1071.11,168.79 L1071.55,169.35 L1072.04,169.86 L1072.58,170.34 L1073.14,170.78 L1073.74,171.17 L1074.37,171.52 L1075.03,171.81 L1075.71,172.06 L1076.40,172.25 L1077.11,172.39 L1077.83,172.47 L1078.55,172.50 L1079.27,172.47 L1079.99,172.39 L1080.70,172.25 L1081.39,172.06 L1082.07,171.81 L1082.73,171.52 L1083.36,171.17 L1083.96,170.78 L1084.52,170.34 L1085.06,169.86 L1085.55,169.35 L1085.99,168.79 L1086.39,168.20 L1086.75,167.59 L1087.05,166.94 L1087.30,166.28 L1087.50,165.60 L1087.64,164.91 L1096.64,164.33 L1096.66,164.45 L1096.91,165.37 L1097.22,166.27 L1097.59,167.14 L1098.03,167.97 L1098.53,168.77 L1099.08,169.52 L1099.69,170.23 L1100.35,170.88 L1101.05,171.47 L1101.79,172.00 L1102.57,172.47 L1103.39,172.87 L1104.23,173.20 L1105.09,173.46 L1105.97,173.65 L1106.86,173.76 L1107.75,173.80 L1108.64,173.76 L1109.53,173.65 L1110.41,173.46 L1111.27,173.20 L1112.11,172.87 L1112.93,172.47 L1113.71,172.00 L1114.45,171.47 L1115.15,170.88 L1115.81,170.23 L1116.42,169.52 L1116.97,168.77 L1117.47,167.97 L1117.91,167.14 L1118.28,166.27 L1118.59,165.37 L1118.84,164.45 L1119.01,163.51 L1119.11,162.56 L1119.15,161.60 L1119.11,160.64 L1119.01,159.69 L1118.84,158.75 L1118.59,157.83 L1118.28,156.93 L1117.91,156.06 L1117.47,155.23 L1116.97,154.43 L1116.42,153.68 L1115.81,152.97 L1115.15,152.32 L1114.45,151.73 L1113.71,151.20 L1112.93,150.73 L1112.11,150.33 L1111.27,150.00 L1110.41,149.74 L1109.53,149.55 L1108.64,149.44 L1107.75,149.40 L1106.86,149.44 L1105.97,149.55 L1105.09,149.74 L1104.23,150.00 L1103.39,150.33 L1102.57,150.73 L1101.91,151.13 L1101.82,150.64Z" fill="#d9d9d9" stroke="#2a5db3" stroke-width="2.2" stroke-linejoin="round"/><path d="M1106.86,159.04 L1106.75,158.47 L1106.59,157.91 L1106.39,157.37 L1106.14,156.84 L1105.86,156.33 L1105.54,155.85 L1105.18,155.39 L1104.78,154.97 L1104.36,154.57 L1103.90,154.21 L1103.42,153.89 L1102.91,153.61 L1102.38,153.36 L1101.84,153.16 L1101.28,153.00 L1100.71,152.89 L1100.13,152.82 L1099.55,152.80 L1098.97,152.82 L1098.39,152.89 L1097.82,153.00 L1097.26,153.16 L1096.72,153.36 L1096.19,153.61 L1095.68,153.89 L1095.20,154.21 L1094.74,154.57 L1094.32,154.97 L1093.92,155.39 L1093.56,155.85 L1093.24,156.33 L1092.96,156.84 L1092.71,157.37 L1092.51,157.91 L1092.35,158.47 L1092.24,159.04 L1092.22,159.25 L1092.12,159.20 L1091.57,158.99 L1091.00,158.82 L1090.42,158.70 L1089.84,158.62 L1089.25,158.60 L1088.66,158.62 L1088.08,158.70 L1087.50,158.82 L1086.93,158.99 L1086.38,159.20 L1085.85,159.46 L1085.33,159.76 L1084.84,160.11 L1084.38,160.49 L1083.95,160.91 L1083.55,161.37 L1083.18,161.86 L1082.86,162.37 L1082.57,162.91 L1082.32,163.48 L1082.12,164.06 L1081.96,164.66 L1081.84,165.26 L1081.77,165.88 L1081.75,166.50 L1081.77,167.12 L1081.84,167.74 L1081.96,168.34 L1082.12,168.94 L1082.32,169.52 L1082.57,170.09 L1082.86,170.63 L1083.18,171.14 L1083.55,171.63 L1083.95,172.09 L1084.38,172.51 L1084.84,172.89 L1085.33,173.24 L1085.85,173.54 L1086.38,173.80 L1086.93,174.01 L1087.50,174.18 L1088.08,174.30 L1088.66,174.38 L1089.25,174.40 L1089.84,174.38 L1090.42,174.30 L1091.00,174.18 L1091.57,174.01 L1092.12,173.80 L1092.65,173.54 L1093.17,173.24 L1093.66,172.89 L1094.12,172.51 L1094.55,172.09 L1094.72,171.90 L1094.75,171.90 L1095.10,171.89 L1095.45,171.87 L1095.80,171.83 L1096.14,171.77 L1096.27,171.75 L1096.48,172.01 L1096.94,172.49 L1097.44,172.94 L1098.00,173.36 L1098.60,173.75 L1099.24,174.11 L1099.92,174.42 L1100.63,174.70 L1101.37,174.94 L1102.14,175.14 L1102.92,175.30 L1103.72,175.41 L1104.53,175.48 L1105.35,175.50 L1106.17,175.48 L1106.98,175.41 L1107.78,175.30 L1108.56,175.14 L1109.33,174.94 L1110.07,174.70 L1110.78,174.42 L1111.46,174.11 L1112.10,173.75 L1112.70,173.36 L1113.26,172.94 L1113.76,172.49 L1114.22,172.01 L1114.62,171.51 L1114.96,170.99 L1115.24,170.46 L1115.46,169.90 L1115.62,169.34 L1115.72,168.77 L1115.75,168.20 L1115.72,167.63 L1115.62,167.06 L1115.46,166.50 L1115.24,165.94 L1114.96,165.41 L1114.62,164.89 L1114.22,164.39 L1113.76,163.91 L1113.26,163.46 L1112.70,163.04 L1112.10,162.65 L1111.46,162.29 L1110.78,161.98 L1110.07,161.70 L1109.33,161.46 L1108.56,161.26 L1107.78,161.10 L1106.98,160.99 L1106.90,160.98 L1106.93,160.78 L1106.95,160.20 L1106.93,159.62 L1106.86,159.04Z" fill="#fafafa" stroke="#2a5db3" stroke-width="2.2" stroke-linejoin="round"/><path d="M1101.90,164.41 L1102.14,163.91 L1102.43,163.43 L1102.78,162.98 L1103.16,162.57 L1103.58,162.20 L1104.04,161.88 L1104.53,161.60 L1105.04,161.37 L1105.58,161.20 L1106.13,161.08 L1106.68,161.01 L1107.25,161.00" fill="none" stroke="#2a5db3" stroke-width="2.2" stroke-linecap="round"/>
<text x="579.60" y="407.70" font-size="24" fill="#000000" text-anchor="middle">Temperatura (°C)</text>
<defs><clipPath id="ct"><rect x="69.5" y="417.5" width="1025.0" height="196.79999999999995"/></clipPath><clipPath id="cp"><rect x="69.5" y="700.5" width="1025" height="196.8"/></clipPath></defs>
<g clip-path="url(#ct)">
<path d="M69.50,534.01 L148.35,505.75 L227.20,508.04 L306.05,531.62 L384.90,537.79 L463.75,500.48 L542.60,492.02 L621.45,491.42 L700.30,491.32 L779.15,495.20 L858.00,500.97 L936.85,506.15 L1015.70,496.60 L1094.55,485.35 L1094.55,562.96 L1015.70,564.75 L936.85,569.23 L858.00,583.76 L779.15,589.23 L700.30,575.40 L621.45,552.12 L542.60,547.74 L463.75,552.12 L384.90,596.20 L306.05,575.00 L227.20,538.09 L148.35,546.35 L69.50,557.29 Z" fill="#6495ed" fill-opacity="0.5"/>
<path d="M69.50,479.08 L148.35,451.92 L227.20,483.46 L306.05,477.59 L384.90,477.39 L463.75,449.23 L542.60,437.29 L621.45,454.61 L700.30,447.05 L779.15,437.10 L858.00,444.46 L936.85,450.73 L1015.70,448.04 L1094.55,445.55 L1094.55,522.86 L1015.70,518.09 L936.85,513.81 L858.00,525.45 L779.15,530.23 L700.30,530.43 L621.45,515.40 L542.60,492.02 L463.75,500.48 L384.90,534.41 L306.05,521.27 L227.20,513.91 L148.35,492.42 L69.50,502.77 Z" fill="#32cd32" fill-opacity="0.38"/>
<line x1="69.5" x2="1094.5" y1="435" y2="435" stroke="rgba(0,0,0,0.145)" stroke-width="2"/>
<line x1="69.5" x2="1094.5" y1="485" y2="485" stroke="rgba(0,0,0,0.145)" stroke-width="2"/>
<line x1="69.5" x2="1094.5" y1="584" y2="584" stroke="rgba(0,0,0,0.145)" stroke-width="2"/>
<line x1="227" x2="227" y1="417.5" y2="614.3" stroke="rgba(0,0,0,0.145)" stroke-width="2"/>
<line x1="385" x2="385" y1="417.5" y2="614.3" stroke="rgba(0,0,0,0.145)" stroke-width="2"/>
<line x1="543" x2="543" y1="417.5" y2="614.3" stroke="rgba(0,0,0,0.145)" stroke-width="2"/>
<line x1="700" x2="700" y1="417.5" y2="614.3" stroke="rgba(0,0,0,0.145)" stroke-width="2"/>
<line x1="858" x2="858" y1="417.5" y2="614.3" stroke="rgba(0,0,0,0.145)" stroke-width="2"/>
<line x1="1016" x2="1016" y1="417.5" y2="614.3" stroke="rgba(0,0,0,0.145)" stroke-width="2"/>
<line x1="69.5" x2="1094.5" y1="535.5" y2="535.5" stroke="#505050" stroke-width="1.2"/>
<path d="M69.50,490.33 L148.35,471.72 L227.20,498.79 L306.05,499.08 L384.90,506.05 L463.75,475.00 L542.60,464.36 L621.45,484.36 L700.30,488.54 L779.15,483.46 L858.00,484.95 L936.85,482.37 L1015.70,483.46 L1094.55,484.56" fill="none" stroke="#ff0000" stroke-width="5" stroke-linejoin="round"/>
<path d="M69.50,546.35 L148.35,525.65 L227.20,522.76 L306.05,554.31 L384.90,567.64 L463.75,526.15 L542.60,520.68 L621.45,522.47 L700.30,535.10 L779.15,542.86 L858.00,541.77 L936.85,537.09 L1015.70,530.23 L1094.55,523.56" fill="none" stroke="#1e90ff" stroke-width="5" stroke-linejoin="round"/>
</g>
<line x1="69.5" x2="74.5" y1="605.25" y2="605.25" stroke="#333" stroke-width="1"/>
<line x1="69.5" x2="74.5" y1="595.30" y2="595.30" stroke="#333" stroke-width="1"/>
<line x1="69.5" x2="74.5" y1="575.40" y2="575.40" stroke="#333" stroke-width="1"/>
<line x1="69.5" x2="74.5" y1="565.45" y2="565.45" stroke="#333" stroke-width="1"/>
<line x1="69.5" x2="74.5" y1="555.50" y2="555.50" stroke="#333" stroke-width="1"/>
<line x1="69.5" x2="74.5" y1="545.55" y2="545.55" stroke="#333" stroke-width="1"/>
<line x1="69.5" x2="74.5" y1="525.65" y2="525.65" stroke="#333" stroke-width="1"/>
<line x1="69.5" x2="74.5" y1="515.70" y2="515.70" stroke="#333" stroke-width="1"/>
<line x1="69.5" x2="74.5" y1="505.75" y2="505.75" stroke="#333" stroke-width="1"/>
<line x1="69.5" x2="74.5" y1="495.80" y2="495.80" stroke="#333" stroke-width="1"/>
<line x1="69.5" x2="74.5" y1="475.90" y2="475.90" stroke="#333" stroke-width="1"/>
<line x1="69.5" x2="74.5" y1="465.95" y2="465.95" stroke="#333" stroke-width="1"/>
<line x1="69.5" x2="74.5" y1="456.00" y2="456.00" stroke="#333" stroke-width="1"/>
<line x1="69.5" x2="74.5" y1="446.05" y2="446.05" stroke="#333" stroke-width="1"/>
<line x1="69.5" x2="74.5" y1="426.15" y2="426.15" stroke="#333" stroke-width="1"/>
<rect x="69.5" y="417.5" width="1025.0" height="196.79999999999995" fill="none" stroke="#222" stroke-width="1.3"/>
<text x="64.80" y="443.10" font-size="20.14" fill="#000" text-anchor="end" textLength="24.19" lengthAdjust="spacingAndGlyphs">10</text>
<text x="64.80" y="493.10" font-size="20.14" fill="#000" text-anchor="end" textLength="12.09" lengthAdjust="spacingAndGlyphs">5</text>
<text x="64.80" y="542.20" font-size="20.14" fill="#000" text-anchor="end" textLength="12.09" lengthAdjust="spacingAndGlyphs">0</text>
<text x="64.80" y="591.70" font-size="20.14" fill="#000" text-anchor="end" textLength="28.02" lengthAdjust="spacingAndGlyphs">−5</text>
<text x="853.70" y="484.20" font-size="20.5" fill="#0000ff" text-anchor="middle" textLength="209.00" lengthAdjust="spacingAndGlyphs">© vreme.us &amp; vreme.pro</text>
<text x="577.75" y="668.20" font-size="24" fill="#000000" text-anchor="middle">Količina padavin (mm) / Možnost padavin (%)</text>
<text x="69.50" y="692.80" font-size="21.2" fill="#000" text-anchor="middle" textLength="30.52" lengthAdjust="spacingAndGlyphs">sre</text>
<text x="148.35" y="692.80" font-size="21.2" fill="#000" text-anchor="middle" textLength="31.16" lengthAdjust="spacingAndGlyphs">čet</text>
<text x="227.20" y="692.80" font-size="21.2" fill="#000" text-anchor="middle" textLength="32.86" lengthAdjust="spacingAndGlyphs">pet</text>
<text x="306.05" y="692.80" font-size="21.2" fill="#000" text-anchor="middle" textLength="35.36" lengthAdjust="spacingAndGlyphs">sob</text>
<text x="384.90" y="692.80" font-size="21.2" fill="#000" text-anchor="middle" textLength="37.69" lengthAdjust="spacingAndGlyphs">ned</text>
<text x="463.75" y="692.80" font-size="21.2" fill="#000" text-anchor="middle" textLength="37.61" lengthAdjust="spacingAndGlyphs">pon</text>
<text x="542.60" y="692.80" font-size="21.2" fill="#000" text-anchor="middle" textLength="28.30" lengthAdjust="spacingAndGlyphs">tor</text>
<text x="621.45" y="692.80" font-size="21.2" fill="#000" text-anchor="middle" textLength="30.52" lengthAdjust="spacingAndGlyphs">sre</text>
<text x="700.30" y="692.80" font-size="21.2" fill="#000" text-anchor="middle" textLength="31.16" lengthAdjust="spacingAndGlyphs">čet</text>
<text x="779.15" y="692.80" font-size="21.2" fill="#000" text-anchor="middle" textLength="32.86" lengthAdjust="spacingAndGlyphs">pet</text>
<text x="858.00" y="692.80" font-size="21.2" fill="#000" text-anchor="middle" textLength="35.36" lengthAdjust="spacingAndGlyphs">sob</text>
<text x="936.85" y="692.80" font-size="21.2" fill="#000" text-anchor="middle" textLength="37.69" lengthAdjust="spacingAndGlyphs">ned</text>
<text x="1015.70" y="692.80" font-size="21.2" fill="#000" text-anchor="middle" textLength="37.61" lengthAdjust="spacingAndGlyphs">pon</text>
<text x="1094.55" y="692.80" font-size="21.2" fill="#000" text-anchor="middle" textLength="28.30" lengthAdjust="spacingAndGlyphs">tor</text>
<g clip-path="url(#cp)">
<line x1="69.5" x2="1094.5" y1="739" y2="739" stroke="rgba(0,0,0,0.145)" stroke-width="2"/>
<line x1="69.5" x2="1094.5" y1="792" y2="792" stroke="rgba(0,0,0,0.145)" stroke-width="2"/>
<line x1="69.5" x2="1094.5" y1="844" y2="844" stroke="rgba(0,0,0,0.145)" stroke-width="2"/>
<line x1="227" x2="227" y1="700.5" y2="897.3" stroke="rgba(0,0,0,0.145)" stroke-width="2"/>
<line x1="385" x2="385" y1="700.5" y2="897.3" stroke="rgba(0,0,0,0.145)" stroke-width="2"/>
<line x1="543" x2="543" y1="700.5" y2="897.3" stroke="rgba(0,0,0,0.145)" stroke-width="2"/>
<line x1="700" x2="700" y1="700.5" y2="897.3" stroke="rgba(0,0,0,0.145)" stroke-width="2"/>
<line x1="858" x2="858" y1="700.5" y2="897.3" stroke="rgba(0,0,0,0.145)" stroke-width="2"/>
<line x1="1016" x2="1016" y1="700.5" y2="897.3" stroke="rgba(0,0,0,0.145)" stroke-width="2"/>
<rect x="122.15" y="829.00" width="52" height="67.89" fill="#0050ff"/>
<rect x="201.00" y="833.62" width="52" height="63.27" fill="#0050ff"/>
<rect x="279.85" y="853.78" width="52" height="43.12" fill="#0050ff"/>
<rect x="358.70" y="881.93" width="52" height="14.98" fill="#0050ff"/>
<rect x="516.40" y="836.77" width="52" height="60.12" fill="#0050ff"/>
<rect x="595.25" y="848.01" width="52" height="48.89" fill="#0050ff"/>
<rect x="674.10" y="839.40" width="52" height="57.50" fill="#0050ff"/>
<line x1="69.50" x2="69.50" y1="896.90" y2="896.90" stroke="#808080" stroke-width="3"/>
<line x1="59.50" x2="79.50" y1="896.90" y2="896.90" stroke="#808080" stroke-width="3"/>
<line x1="59.50" x2="79.50" y1="896.90" y2="896.90" stroke="#808080" stroke-width="3"/>
<line x1="148.35" x2="148.35" y1="886.61" y2="773.52" stroke="#808080" stroke-width="3"/>
<line x1="138.35" x2="158.35" y1="886.61" y2="886.61" stroke="#808080" stroke-width="3"/>
<line x1="138.35" x2="158.35" y1="773.52" y2="773.52" stroke="#808080" stroke-width="3"/>
<line x1="227.20" x2="227.20" y1="896.38" y2="772.48" stroke="#808080" stroke-width="3"/>
<line x1="217.20" x2="237.20" y1="896.38" y2="896.38" stroke="#808080" stroke-width="3"/>
<line x1="217.20" x2="237.20" y1="772.48" y2="772.48" stroke="#808080" stroke-width="3"/>
<line x1="306.05" x2="306.05" y1="892.38" y2="817.62" stroke="#808080" stroke-width="3"/>
<line x1="296.05" x2="316.05" y1="892.38" y2="892.38" stroke="#808080" stroke-width="3"/>
<line x1="296.05" x2="316.05" y1="817.62" y2="817.62" stroke="#808080" stroke-width="3"/>
<line x1="384.90" x2="384.90" y1="900.05" y2="850.17" stroke="#808080" stroke-width="3"/>
<line x1="374.90" x2="394.90" y1="900.05" y2="900.05" stroke="#808080" stroke-width="3"/>
<line x1="374.90" x2="394.90" y1="850.17" y2="850.17" stroke="#808080" stroke-width="3"/>
<line x1="463.75" x2="463.75" y1="896.90" y2="896.90" stroke="#808080" stroke-width="3"/>
<line x1="453.75" x2="473.75" y1="896.90" y2="896.90" stroke="#808080" stroke-width="3"/>
<line x1="453.75" x2="473.75" y1="896.90" y2="896.90" stroke="#808080" stroke-width="3"/>
<line x1="542.60" x2="542.60" y1="900.05" y2="713.41" stroke="#808080" stroke-width="3"/>
<line x1="532.60" x2="552.60" y1="900.05" y2="900.05" stroke="#808080" stroke-width="3"/>
<line x1="532.60" x2="552.60" y1="713.41" y2="713.41" stroke="#808080" stroke-width="3"/>
<line x1="621.45" x2="621.45" y1="900.05" y2="770.38" stroke="#808080" stroke-width="3"/>
<line x1="611.45" x2="631.45" y1="900.05" y2="900.05" stroke="#808080" stroke-width="3"/>
<line x1="611.45" x2="631.45" y1="770.38" y2="770.38" stroke="#808080" stroke-width="3"/>
<line x1="700.30" x2="700.30" y1="900.05" y2="755.15" stroke="#808080" stroke-width="3"/>
<line x1="690.30" x2="710.30" y1="900.05" y2="900.05" stroke="#808080" stroke-width="3"/>
<line x1="690.30" x2="710.30" y1="755.15" y2="755.15" stroke="#808080" stroke-width="3"/>
<line x1="779.15" x2="779.15" y1="896.90" y2="896.90" stroke="#808080" stroke-width="3"/>
<line x1="769.15" x2="789.15" y1="896.90" y2="896.90" stroke="#808080" stroke-width="3"/>
<line x1="769.15" x2="789.15" y1="896.90" y2="896.90" stroke="#808080" stroke-width="3"/>
<line x1="858.00" x2="858.00" y1="896.90" y2="896.90" stroke="#808080" stroke-width="3"/>
<line x1="848.00" x2="868.00" y1="896.90" y2="896.90" stroke="#808080" stroke-width="3"/>
<line x1="848.00" x2="868.00" y1="896.90" y2="896.90" stroke="#808080" stroke-width="3"/>
<line x1="936.85" x2="936.85" y1="896.90" y2="896.90" stroke="#808080" stroke-width="3"/>
<line x1="926.85" x2="946.85" y1="896.90" y2="896.90" stroke="#808080" stroke-width="3"/>
<line x1="926.85" x2="946.85" y1="896.90" y2="896.90" stroke="#808080" stroke-width="3"/>
<line x1="1015.70" x2="1015.70" y1="896.90" y2="896.90" stroke="#808080" stroke-width="3"/>
<line x1="1005.70" x2="1025.70" y1="896.90" y2="896.90" stroke="#808080" stroke-width="3"/>
<line x1="1005.70" x2="1025.70" y1="896.90" y2="896.90" stroke="#808080" stroke-width="3"/>
<line x1="1094.55" x2="1094.55" y1="896.90" y2="896.90" stroke="#808080" stroke-width="3"/>
<line x1="1084.55" x2="1104.55" y1="896.90" y2="896.90" stroke="#808080" stroke-width="3"/>
<line x1="1084.55" x2="1104.55" y1="896.90" y2="896.90" stroke="#808080" stroke-width="3"/>
</g>
<rect x="69.5" y="700.5" width="1025.0" height="196.79999999999995" fill="none" stroke="#222" stroke-width="1.3"/>
<text x="64.80" y="747.40" font-size="20.14" fill="#000" text-anchor="end" textLength="24.19" lengthAdjust="spacingAndGlyphs">30</text>
<text x="64.80" y="800.30" font-size="20.14" fill="#000" text-anchor="end" textLength="24.19" lengthAdjust="spacingAndGlyphs">20</text>
<text x="64.80" y="852.60" font-size="20.14" fill="#000" text-anchor="end" textLength="24.19" lengthAdjust="spacingAndGlyphs">10</text>
<text x="64.80" y="893.40" font-size="20.14" fill="#000" text-anchor="end" textLength="12.09" lengthAdjust="spacingAndGlyphs">0</text>
<text x="69.50" y="926.90" font-size="25.44" fill="#4fd3e3" text-anchor="middle" textLength="38.08" lengthAdjust="spacingAndGlyphs">5%</text>
<text x="148.35" y="926.90" font-size="25.44" fill="#1f63b5" text-anchor="middle" textLength="68.61" lengthAdjust="spacingAndGlyphs">100%</text>
<text x="227.20" y="926.90" font-size="25.44" fill="#1f63b5" text-anchor="middle" textLength="53.34" lengthAdjust="spacingAndGlyphs">90%</text>
<text x="306.05" y="926.90" font-size="25.44" fill="#3a9fd8" text-anchor="middle" textLength="53.34" lengthAdjust="spacingAndGlyphs">40%</text>
<text x="384.90" y="926.90" font-size="25.44" fill="#1f63b5" text-anchor="middle" textLength="53.34" lengthAdjust="spacingAndGlyphs">55%</text>
<text x="463.75" y="926.90" font-size="25.44" fill="#1f63b5" text-anchor="middle" textLength="53.34" lengthAdjust="spacingAndGlyphs">75%</text>
<text x="542.60" y="926.90" font-size="25.44" fill="#1f63b5" text-anchor="middle" textLength="53.34" lengthAdjust="spacingAndGlyphs">85%</text>
<text x="621.45" y="926.90" font-size="25.44" fill="#1f63b5" text-anchor="middle" textLength="53.34" lengthAdjust="spacingAndGlyphs">55%</text>
<text x="700.30" y="926.90" font-size="25.44" fill="#3a9fd8" text-anchor="middle" textLength="53.34" lengthAdjust="spacingAndGlyphs">35%</text>
<text x="779.15" y="926.90" font-size="25.44" fill="#3a9fd8" text-anchor="middle" textLength="53.34" lengthAdjust="spacingAndGlyphs">40%</text>
<text x="858.00" y="926.90" font-size="25.44" fill="#3a9fd8" text-anchor="middle" textLength="53.34" lengthAdjust="spacingAndGlyphs">25%</text>
<text x="936.85" y="926.90" font-size="25.44" fill="#3a9fd8" text-anchor="middle" textLength="53.34" lengthAdjust="spacingAndGlyphs">25%</text>
<text x="1015.70" y="926.90" font-size="25.44" fill="#3a9fd8" text-anchor="middle" textLength="53.34" lengthAdjust="spacingAndGlyphs">30%</text>
<text x="1094.55" y="926.90" font-size="25.44" fill="#3a9fd8" text-anchor="middle" textLength="53.34" lengthAdjust="spacingAndGlyphs">35%</text>
</svg>
</body></html>
